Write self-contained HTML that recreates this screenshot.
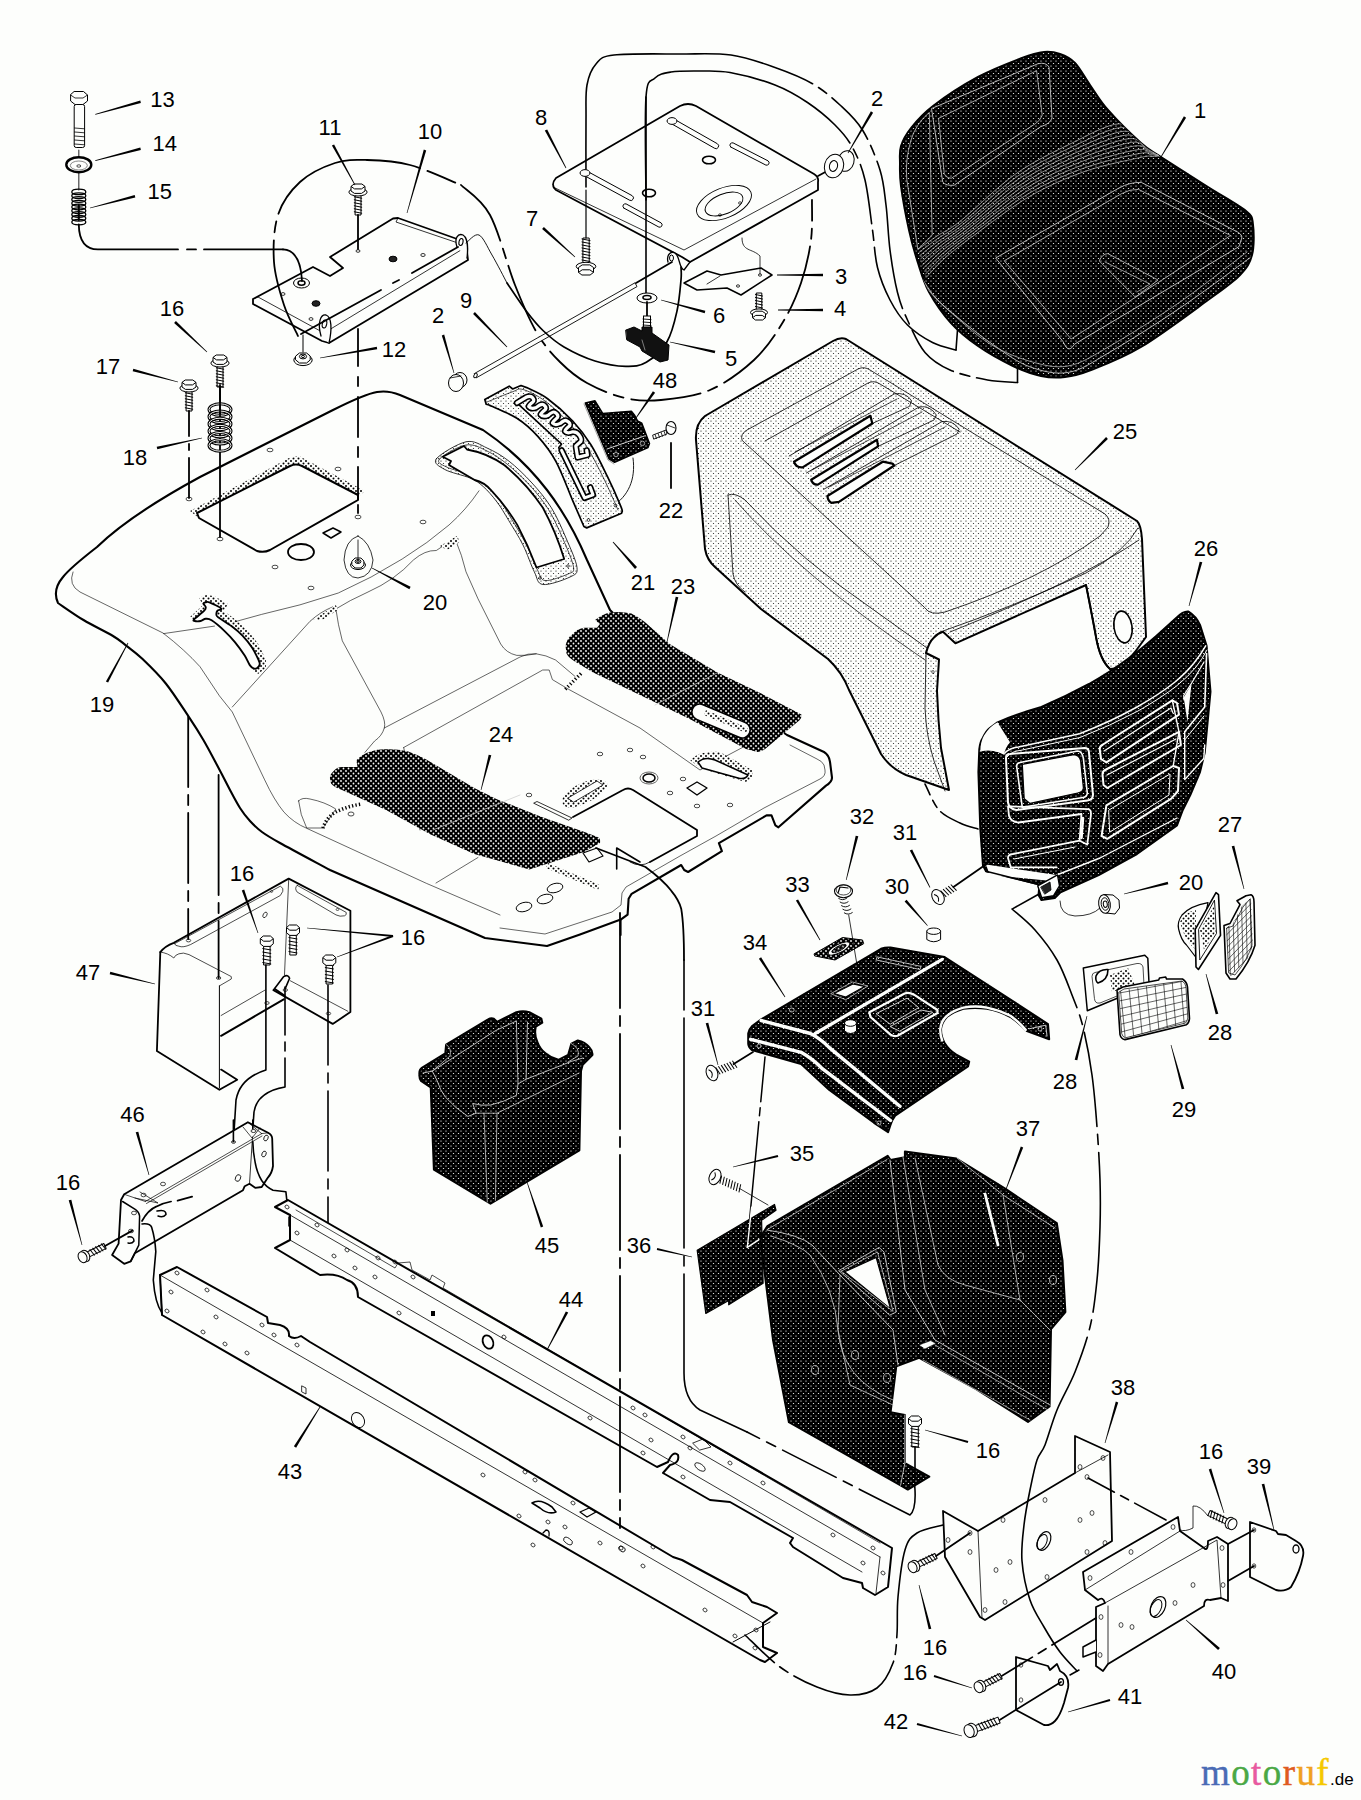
<!DOCTYPE html>
<html><head><meta charset="utf-8"><title>Parts diagram</title>
<style>
html,body{margin:0;padding:0;background:#fdfefc;}
body{width:1361px;height:1800px;overflow:hidden;font-family:"Liberation Sans",sans-serif;}
svg{display:block;}
svg text{font-family:"Liberation Sans",sans-serif;fill:#000;}
</style></head><body>
<svg width="1361" height="1800" viewBox="0 0 1361 1800">
<defs>
<pattern id="light" width="5" height="5" patternUnits="userSpaceOnUse"><rect width="5" height="5" fill="#fdfefc"/><circle cx="1" cy="1" r="0.62" fill="#111"/><circle cx="3.5" cy="3.5" r="0.62" fill="#222"/></pattern>
<pattern id="dark" width="5" height="5" patternUnits="userSpaceOnUse"><rect width="5" height="5" fill="#000"/><ellipse cx="1" cy="1" rx="0.7" ry="0.55" fill="#fdfefc"/><ellipse cx="3.5" cy="3.5" rx="0.7" ry="0.55" fill="#fdfefc"/></pattern>
<pattern id="mat" width="5" height="5" patternUnits="userSpaceOnUse"><rect width="5" height="5" fill="#000"/><circle cx="1" cy="1" r="0.9" fill="#fdfefc"/><circle cx="3.5" cy="3.5" r="0.9" fill="#fdfefc"/></pattern>
<pattern id="shade" width="5" height="5" patternUnits="userSpaceOnUse"><rect width="5" height="5" fill="#fdfefc"/><circle cx="1" cy="1" r="1.0" fill="#000"/><circle cx="3.5" cy="3.5" r="1.0" fill="#000"/></pattern>
</defs>
<rect width="1361" height="1800" fill="#fdfefc"/>
<path d="M610,610 L587,560 Q570,520 547,490 Q520,455 483,430 L400,395 Q388,390 377,392 Q365,394 333,410 L200,477 Q130,515 97,547 Q70,568 63,577 Q52,590 58,603 L58.0,603.0C62.2,605.8 74.3,614.5 83.5,620.0C92.7,625.5 106.0,631.8 113.0,636.0C120.0,640.2 120.9,641.5 125.8,645.3C130.7,649.1 135.6,652.4 142.3,658.8C149.0,665.2 158.0,673.7 165.8,683.5C173.6,693.3 183.0,708.2 189.3,717.6C195.6,727.0 198.8,732.1 203.4,740.0C208.0,747.9 212.6,756.7 217.0,765.0C221.4,773.3 226.2,782.8 230.0,790.0C233.8,797.2 236.7,802.8 240.0,808.0C243.3,813.2 246.3,817.0 250.0,821.0C253.7,825.0 257.0,828.3 262.0,832.0C267.0,835.7 268.7,836.7 280.0,843.0C291.3,849.3 321.7,865.5 330.0,870.0 L330,870 L485,938 L547,946 L580,934.4 L620.7,919.6 L627.6,914.6 L628.6,898.7 L631.6,893.8 L681.2,865 L684.2,870 L688.1,872 L721.9,851.1 L718.9,843.2 L766.5,815.4 L771.5,815.4 L775.4,825.3 L778.4,827.3 L826,785.6 Q832,782 832,777.7 L830,761.8 Q829,755 824,752 L787,735 L613,613 Z" fill="#fdfefc" stroke="#000" stroke-width="2.1" stroke-linejoin="round" stroke-linecap="round" />
<path d="M73,572 Q68,585 80,592 L163,633 Q185,650 200,666.7 L219.4,695.8 L232.3,712 L264.7,779.9 Q274,800 284,812.2 Q294,823 306.7,828.3 L426.3,883.3 L500,915" fill="none" stroke="#000" stroke-width="0.6" stroke-linejoin="round" stroke-linecap="round" />
<path d="M500,928 L545,934 L612,912 L621,905 L622,893 L626,887 L680,856 L716,836 L764,808 L820,779 Q826,776 825,770 L824,765 Q822,761 817,759 L790,745" fill="none" stroke="#000" stroke-width="0.6" stroke-linejoin="round" stroke-linecap="round" />
<polygon points="190.0,511.0 289.0,458.0 299.0,456.0 365.0,491.0 358.0,497.0 296.0,467.0 199.0,518.0" fill="url(#shade)" stroke="none" stroke-width="0" stroke-linejoin="round" stroke-linecap="round" />
<path d="M197,513 L290,466 Q296,463 302,466 L358,495 L358,500 L270,550 Q264,553 257,551 L199,518 Z" fill="#fdfefc" stroke="#000" stroke-width="2" stroke-linejoin="round" stroke-linecap="round" />
<ellipse cx="301" cy="552" rx="13" ry="8" fill="none" stroke="#000" stroke-width="1.8"/>
<polygon points="323.0,533.0 333.0,528.0 341.0,532.0 331.0,538.0" fill="none" stroke="#000" stroke-width="1.5" stroke-linejoin="round" stroke-linecap="round" />
<ellipse cx="189" cy="499" rx="3" ry="1.8" fill="none" stroke="#000" stroke-width="0.7"/>
<ellipse cx="220" cy="539" rx="3" ry="1.8" fill="none" stroke="#000" stroke-width="0.7"/>
<ellipse cx="270" cy="450" rx="3" ry="1.8" fill="none" stroke="#000" stroke-width="0.7"/>
<ellipse cx="338" cy="469" rx="3" ry="1.8" fill="none" stroke="#000" stroke-width="0.7"/>
<ellipse cx="358" cy="517" rx="3" ry="1.8" fill="none" stroke="#000" stroke-width="0.7"/>
<ellipse cx="423" cy="522" rx="3" ry="1.8" fill="none" stroke="#000" stroke-width="0.7"/>
<ellipse cx="275" cy="567" rx="3" ry="1.8" fill="none" stroke="#000" stroke-width="0.7"/>
<ellipse cx="311" cy="588" rx="3" ry="1.8" fill="none" stroke="#000" stroke-width="0.7"/>
<path d="M358,536 Q345,540 344,560 Q346,578 358,578 Q372,576 373,560 Q370,542 358,536 Z" fill="#fdfefc" stroke="#000" stroke-width="0.8" stroke-linejoin="round" stroke-linecap="round" />
<ellipse cx="358" cy="565" rx="7.475" ry="4.55" fill="#fdfefc" stroke="#000" stroke-width="1.0"/>
<polygon points="352.1,561.0 355.1,558.0 360.9,558.0 363.9,561.0 363.9,565.0 360.9,568.0 355.1,568.0 352.1,565.0" fill="#fdfefc" stroke="#000" stroke-width="1.0" stroke-linejoin="round" stroke-linecap="round" />
<ellipse cx="358" cy="561.5" rx="2.9250000000000003" ry="1.95" fill="none" stroke="#000" stroke-width="1.0"/>
<ellipse cx="358" cy="561.5" rx="1.3" ry="0.845" fill="none" stroke="#000" stroke-width="1.0"/>
<line x1="358" y1="540" x2="358" y2="560" stroke="#000" stroke-width="0.8" stroke-linecap="round" />
<path d="M190,617 L203,605 L199,598 L206,595 L214,596 L228,604 L224,611 L236,620 L249,632 L259,645 L266,660 L266,668 L258,674 L252,670 L258,664 L250,647 L240,634 L229,625 L217,616 L213,609 L217,607 L208,603 L206,608 L204,612 L195,621 Z" fill="url(#shade)" stroke="none" stroke-width="1.5" stroke-linejoin="round" stroke-linecap="round" />
<path d="M194.3,619.2C195.9,617.5 202.3,612.7 204.2,610.7C206.1,608.7 205.8,608.2 205.7,607.0C205.6,605.8 203.5,604.5 203.5,603.7C203.5,602.9 204.7,602.5 205.7,602.3C206.7,602.1 206.8,601.3 209.4,602.3C212.0,603.3 219.8,607.1 221.1,608.5C222.4,609.9 218.3,609.7 217.5,610.7C216.7,611.7 216.3,613.3 216.4,614.4C216.5,615.5 215.7,615.3 218.2,617.3C220.7,619.2 227.3,623.0 231.4,626.1C235.5,629.2 239.1,632.1 242.5,635.7C245.9,639.3 249.3,643.5 252.0,647.5C254.7,651.5 257.3,657.2 258.6,660.0C259.9,662.8 259.9,663.1 259.7,664.4C259.5,665.7 258.2,667.3 257.2,668.0C256.2,668.7 254.7,668.9 253.5,668.4C252.3,667.9 251.3,667.2 249.8,665.1C248.3,663.0 247.1,659.3 244.7,655.5C242.2,651.7 238.5,646.4 235.1,642.3C231.7,638.1 228.0,634.3 224.1,630.6C220.2,626.9 214.7,622.3 211.6,620.3C208.5,618.3 207.5,618.7 205.7,618.8C203.9,618.9 202.4,620.6 200.6,621.0C198.8,621.4 195.8,621.3 194.7,621.0C193.6,620.7 192.7,620.9 194.3,619.2Z" fill="#fdfefc" stroke="#000" stroke-width="1.9" stroke-linejoin="round" stroke-linecap="round" />
<line x1="163.6" y1="633.6" x2="214.5" y2="626.1" stroke="#000" stroke-width="0.6" stroke-linecap="round" />
<path d="M235.1,621.7 L261.6,614.4 Q300,606 338.3,593 Q372,578 402.2,559 Q428,543 449,525 Q466,510 479,490.8" fill="none" stroke="#000" stroke-width="0.6" stroke-linejoin="round" stroke-linecap="round" />
<path d="M232.3,707 L309.9,621.4 Q320,612 332.6,606.9" fill="none" stroke="#000" stroke-width="0.6" stroke-linejoin="round" stroke-linecap="round" />
<path d="M335.8,608.5 Q338,625 342.3,640.8 L381,712 Q386,722 384.3,728 Q382,736 374.6,741 L364.9,752.4" fill="none" stroke="#000" stroke-width="0.6" stroke-linejoin="round" stroke-linecap="round" />
<path d="M334,610 Q350,600 368,592 Q395,580 413.4,560 Q425,550 436.3,550.5 L455.5,537.7" fill="none" stroke="#000" stroke-width="0.6" stroke-linejoin="round" stroke-linecap="round" />
<path d="M455.5,539.8 Q462,555 466,571.8 L478,598.8 L500.7,644 Q506,653 516.8,655.4 Q526,656 536.2,653.8" fill="none" stroke="#000" stroke-width="0.6" stroke-linejoin="round" stroke-linecap="round" />
<path d="M384.3,728 L520,657 Q528,653 536.2,653.8 Q546,655 555.6,660 L575,676.4" fill="none" stroke="#000" stroke-width="0.6" stroke-linejoin="round" stroke-linecap="round" />
<path d="M403.7,747.5 L542.7,670 L549.2,670 L552.4,679.6 L568.6,689.3 L640,728 L700,770 L800,717" fill="none" stroke="#000" stroke-width="0.6" stroke-linejoin="round" stroke-linecap="round" />
<polygon points="313.0,620.0 335.8,605.0 338.0,610.0 322.0,620.0" fill="url(#shade)" stroke="none" stroke-width="1.5" stroke-linejoin="round" stroke-linecap="round" />
<polygon points="440.0,546.0 457.0,536.0 460.0,542.0 447.0,550.0" fill="url(#shade)" stroke="none" stroke-width="1.5" stroke-linejoin="round" stroke-linecap="round" />
<path d="M298.6,800.9 Q302,797 310,799 Q325,802 335.8,809 L322.9,828 L306.7,828 Q300,815 298.6,800.9 Z" fill="none" stroke="#000" stroke-width="0.6" stroke-linejoin="round" stroke-linecap="round" />
<path d="M322.9,828.3 Q326,818 335.8,812 Q348,806 361.7,804" fill="none" stroke="#000" stroke-width="3.5" stroke-dasharray="1.3 2.2" stroke-linecap="butt"/>
<path d="M322.9,828.3 Q326,818 335.8,812 Q348,806 361.7,804" fill="none" stroke="#000" stroke-width="3.5" stroke-dasharray="1.3 2.2" stroke-dashoffset="1.75" stroke-linecap="butt" transform="translate(0,0)" opacity="0"/>
<path d="M565.3,689.3 L581.5,673" fill="none" stroke="#000" stroke-width="3.5" stroke-dasharray="1.3 2.2" stroke-linecap="butt"/>
<path d="M565.3,689.3 L581.5,673" fill="none" stroke="#000" stroke-width="3.5" stroke-dasharray="1.3 2.2" stroke-dashoffset="1.75" stroke-linecap="butt" transform="translate(0,0)" opacity="0"/>
<path d="M436,883 L478,857.5 M420,830 L403.7,747.5" fill="none" stroke="#000" stroke-width="0.6" stroke-linejoin="round" stroke-linecap="round" />
<path d="M436.3,458.8C439.8,454.2 457.6,443.6 466.0,441.8C474.4,440.0 479.9,444.8 487.0,448.0C494.1,451.2 501.3,455.2 508.8,461.0C516.3,466.8 524.9,475.2 532.0,483.0C539.1,490.8 545.7,498.6 551.4,507.8C557.1,517.0 561.7,528.0 566.0,538.0C570.3,548.0 576.3,561.0 577.0,567.5C577.7,574.0 575.7,574.2 570.0,577.0C564.3,579.8 548.9,585.4 542.9,584.5C536.9,583.6 537.6,578.4 534.3,571.8C531.0,565.2 527.2,553.5 523.0,545.0C518.8,536.5 513.1,527.8 508.8,520.6C504.5,513.4 501.3,507.7 497.0,502.0C492.7,496.3 487.7,490.5 483.2,486.5C478.7,482.5 476.4,480.8 470.0,478.0C463.6,475.2 450.4,472.7 444.8,469.5C439.2,466.3 432.8,463.4 436.3,458.8Z" fill="url(#light)" stroke="#000" stroke-width="0.8" stroke-linejoin="round" stroke-linecap="round" />
<path d="M439.5,459.0C442.8,455.3 458.1,446.3 466.0,445.0C473.9,443.7 480.2,447.8 487.0,451.0C493.8,454.2 499.9,458.3 507.0,464.0C514.1,469.7 522.6,477.4 529.5,485.0C536.4,492.6 542.9,500.5 548.5,509.5C554.1,518.5 558.8,529.4 563.0,539.0C567.2,548.6 572.7,561.2 573.5,567.0C574.3,572.8 572.8,571.8 568.0,574.0C563.2,576.2 550.1,581.2 545.0,580.5C539.9,579.8 540.7,576.1 537.5,570.0C534.3,563.9 530.3,552.5 526.0,544.0C521.7,535.5 515.9,526.3 511.5,519.0C507.1,511.7 503.9,505.8 499.5,500.0C495.1,494.2 489.8,488.2 485.0,484.0C480.2,479.8 477.4,477.8 471.0,475.0C464.6,472.2 451.8,469.7 446.5,467.0C441.2,464.3 436.2,462.7 439.5,459.0Z" fill="none" stroke="#000" stroke-width="0.7" stroke-linejoin="round" stroke-linecap="round" />
<path d="M442.7,456.7 L464,446 L467,449.5 Q487,453 504.5,465.2 Q527,484 542.9,507.8 Q556,532 564.2,559 L536.5,567.5 Q528,545 517.3,524.9 Q506,506 491.7,490.8 Q484,482 474.7,480 L449,465 L451,461 Z" fill="#fdfefc" stroke="#000" stroke-width="1.8" stroke-linejoin="round" stroke-linecap="round" />
<ellipse cx="540" cy="578" rx="1.3" ry="1.3" fill="none" stroke="#000" stroke-width="0.7"/>
<ellipse cx="568" cy="566" rx="1.3" ry="1.3" fill="none" stroke="#000" stroke-width="0.7"/>
<path d="M573,817 L623,790 Q628,787 633,790 L697,830 L697,836 L650,862" fill="none" stroke="#000" stroke-width="1.8" stroke-linejoin="round" stroke-linecap="round" />
<path d="M650,862 Q640,868 630,862" fill="none" stroke="#000" stroke-width="0.8" stroke-linejoin="round" stroke-linecap="round" />
<ellipse cx="600" cy="754" rx="2.8" ry="1.8" fill="none" stroke="#000" stroke-width="0.7"/>
<ellipse cx="630" cy="750" rx="2.8" ry="1.8" fill="none" stroke="#000" stroke-width="0.7"/>
<ellipse cx="643" cy="757" rx="2.8" ry="1.8" fill="none" stroke="#000" stroke-width="0.7"/>
<ellipse cx="683" cy="779" rx="2.8" ry="1.8" fill="none" stroke="#000" stroke-width="0.7"/>
<ellipse cx="670" cy="793" rx="2.8" ry="1.8" fill="none" stroke="#000" stroke-width="0.7"/>
<ellipse cx="697" cy="806" rx="2.8" ry="1.8" fill="none" stroke="#000" stroke-width="0.7"/>
<ellipse cx="730" cy="805" rx="2.8" ry="1.8" fill="none" stroke="#000" stroke-width="0.7"/>
<ellipse cx="529" cy="795" rx="2.8" ry="1.8" fill="none" stroke="#000" stroke-width="0.7"/>
<ellipse cx="649" cy="778" rx="6" ry="4" fill="none" stroke="#000" stroke-width="1.5"/>
<ellipse cx="649" cy="778" rx="9" ry="6" fill="none" stroke="#000" stroke-width="0.6"/>
<polygon points="687.0,788.0 697.0,782.0 707.0,788.0 697.0,795.0" fill="none" stroke="#000" stroke-width="1.4" stroke-linejoin="round" stroke-linecap="round" />
<path d="M562,800 Q565,788 590,780 Q605,778 608,785 Q600,800 572,808 Q562,808 562,800Z" fill="url(#shade)" stroke="none" stroke-width="1.5" stroke-linejoin="round" stroke-linecap="round" />
<path d="M568,798 L597,781 L603,785 L574,802 Z" fill="#fdfefc" stroke="#000" stroke-width="0.8" stroke-linejoin="round" stroke-linecap="round" />
<polygon points="534.0,803.0 537.0,801.5 572.0,818.0 569.0,820.0" fill="none" stroke="#000" stroke-width="0.8" stroke-linejoin="round" stroke-linecap="round" />
<path d="M690,760 Q700,750 720,752 L752,770 Q755,780 745,782 L700,768 Z" fill="url(#shade)" stroke="none" stroke-width="1.5" stroke-linejoin="round" stroke-linecap="round" />
<path d="M698,762 Q705,756 715,760 L748,775 Q745,780 738,778 L702,768 Z" fill="#fdfefc" stroke="#000" stroke-width="1.5" stroke-linejoin="round" stroke-linecap="round" />
<ellipse cx="555" cy="888" rx="8" ry="4.5" fill="none" stroke="#000" stroke-width="0.9" transform="rotate(-15 555 888)"/>
<ellipse cx="545" cy="899" rx="8" ry="4.5" fill="none" stroke="#000" stroke-width="0.9" transform="rotate(-15 545 899)"/>
<ellipse cx="524" cy="907" rx="8" ry="4.5" fill="none" stroke="#000" stroke-width="0.9" transform="rotate(-15 524 907)"/>
<ellipse cx="351" cy="814" rx="3" ry="2" fill="none" stroke="#000" stroke-width="0.7"/>
<path d="M565.5,645.8 Q567,638 572.2,634.4 Q577,629 583.7,627.7 L597,627.7 L599.9,623.9 L595.1,620 Q602,614 610.4,612.4 Q621,611 631.4,613.4 Q639,617 644.8,622 L669.6,643.9 L717.4,672.6 L761.3,693.6 L801.4,714.6 Q802,718 799.5,720.3 L765.1,749 Q761,752 757.5,751.9 L746,749 L688.7,718.4 L641,695.5 L593.2,672.6 L574.1,661.1 Q568,657 566.5,653.5 Z" fill="url(#mat)" stroke="none" stroke-width="1.5" stroke-linejoin="round" stroke-linecap="round" />
<rect x="690" y="713" width="62" height="16" rx="8" fill="#fdfefc" stroke="#000" stroke-width="1.6" transform="rotate(23 721 721)"/>
<polygon points="706.0,710.0 748.0,728.0 746.0,733.0 704.0,715.0" fill="url(#shade)" stroke="none" stroke-width="0" stroke-linejoin="round" stroke-linecap="round" />
<line x1="655" y1="705" x2="717" y2="673" stroke="#ccc" stroke-width="0.7" stroke-linecap="round" />
<path d="M329.9,778 Q330,774 333.2,771.4 Q337,767 342,767 L357.5,767 L356.4,760.3 Q362,754 370.7,751.5 Q378,749 386.1,749.3 Q398,749 408.2,751.5 Q418,755 425.8,759.2 L474.3,787.9 L496.3,798.9 L540.4,816.6 L584.5,832 L598.8,837.5 Q601,840 599.9,843 L584.5,851.8 L529.4,869.4 L474.3,854 L430.2,834.2 L386.1,809.9 L342,790.1 Q334,787 331,783.5 Z" fill="url(#mat)" stroke="none" stroke-width="1.5" stroke-linejoin="round" stroke-linecap="round" />
<line x1="433" y1="830" x2="520" y2="795" stroke="#ccc" stroke-width="0.7" stroke-linecap="round" />
<polygon points="583.0,853.0 597.0,848.0 603.0,856.0 589.0,862.0" fill="#fdfefc" stroke="#000" stroke-width="1.2" stroke-linejoin="round" stroke-linecap="round" />
<polygon points="548.0,863.0 600.0,885.0 598.0,890.0 546.0,868.0" fill="url(#shade)" stroke="none" stroke-width="0" stroke-linejoin="round" stroke-linecap="round" />
<path d="M616.7,869 L616.7,848 L640,862" fill="none" stroke="#000" stroke-width="1.6" stroke-linejoin="round" stroke-linecap="round" />
<path d="M596,848 L645.5,867 Q663,880 671.3,890.8 Q679,900 681.2,908.7 Q684,925 684,960" fill="none" stroke="#000" stroke-width="1.8" stroke-linejoin="round" stroke-linecap="round" />
<line x1="620.7" y1="919.6" x2="620.7" y2="935" stroke="#000" stroke-width="1.8" stroke-linecap="round" />
<text x="102" y="711.9" font-size="22" text-anchor="middle">19</text>
<polygon points="127.7,642.8 105.9,681.4 108.1,682.6 128.3,643.2" fill="#000"/>
<text x="435" y="609.9" font-size="22" text-anchor="middle">20</text>
<polygon points="371.8,568.3 409.4,589.2 410.6,586.8 372.2,567.7" fill="#000"/>
<text x="683" y="593.9" font-size="22" text-anchor="middle">23</text>
<polygon points="667.3,642.1 678.3,597.3 675.7,596.7 666.7,641.9" fill="#000"/>
<text x="501" y="741.9" font-size="22" text-anchor="middle">24</text>
<polygon points="481.3,790.1 491.3,755.3 488.7,754.7 480.7,789.9" fill="#000"/>
<polygon points="74.5,91.5 83.5,91.5 87.5,95.0 87.5,101.0 83.0,104.5 75.0,104.5 70.6,101.0 70.6,95.0" fill="#fdfefc" stroke="#000" stroke-width="1" stroke-linejoin="round" stroke-linecap="round" />
<polyline points="70.6,95.0 75.0,98.0 83.0,98.0 87.5,95.0" fill="none" stroke="#000" stroke-width="0.8" stroke-linejoin="round" stroke-linecap="round" />
<rect x="74.2" y="104.5" width="10.4" height="43" rx="2" fill="#fdfefc" stroke="#000" stroke-width="1"/>
<line x1="74.5" y1="128" x2="84.5" y2="128.8" stroke="#000" stroke-width="0.8" stroke-linecap="round" />
<line x1="74.5" y1="132" x2="84.5" y2="132.8" stroke="#000" stroke-width="0.8" stroke-linecap="round" />
<line x1="74.5" y1="136" x2="84.5" y2="136.8" stroke="#000" stroke-width="0.8" stroke-linecap="round" />
<line x1="74.5" y1="140" x2="84.5" y2="140.8" stroke="#000" stroke-width="0.8" stroke-linecap="round" />
<line x1="74.5" y1="144" x2="84.5" y2="144.8" stroke="#000" stroke-width="0.8" stroke-linecap="round" />
<line x1="78.8" y1="150" x2="78.8" y2="190" stroke="#444" stroke-width="1.2" stroke-linecap="round" />
<ellipse cx="78.8" cy="164.7" rx="12.5" ry="7.5" fill="#fdfefc" stroke="#000" stroke-width="2.4"/>
<ellipse cx="78.8" cy="165.5" rx="8.5" ry="4.5" fill="none" stroke="#555" stroke-width="0.7"/>
<ellipse cx="78.8" cy="166" rx="2" ry="1.2" fill="none" stroke="#000" stroke-width="0.7"/>
<ellipse cx="78.8" cy="191.88888888888889" rx="7.0" ry="2.833333333333333" fill="none" stroke="#000" stroke-width="1.3"/>
<ellipse cx="78.8" cy="195.66666666666666" rx="7.0" ry="2.833333333333333" fill="none" stroke="#000" stroke-width="1.3"/>
<ellipse cx="78.8" cy="199.44444444444446" rx="7.0" ry="2.833333333333333" fill="none" stroke="#000" stroke-width="1.3"/>
<ellipse cx="78.8" cy="203.22222222222223" rx="7.0" ry="2.833333333333333" fill="none" stroke="#000" stroke-width="1.3"/>
<ellipse cx="78.8" cy="207.0" rx="7.0" ry="2.833333333333333" fill="none" stroke="#000" stroke-width="1.3"/>
<ellipse cx="78.8" cy="210.77777777777777" rx="7.0" ry="2.833333333333333" fill="none" stroke="#000" stroke-width="1.3"/>
<ellipse cx="78.8" cy="214.55555555555554" rx="7.0" ry="2.833333333333333" fill="none" stroke="#000" stroke-width="1.3"/>
<ellipse cx="78.8" cy="218.33333333333334" rx="7.0" ry="2.833333333333333" fill="none" stroke="#000" stroke-width="1.3"/>
<ellipse cx="78.8" cy="222.11111111111111" rx="7.0" ry="2.833333333333333" fill="none" stroke="#000" stroke-width="1.3"/>
<line x1="78.8" y1="205" x2="78.8" y2="220" stroke="#000" stroke-width="2" stroke-linecap="round" />
<path d="M78.8,224.5 C79,240 85,249.4 98,249.4 L178,249.4 M187,249.4 L196,249.4 M204,249.4 L283,249.4" fill="none" stroke="#000" stroke-width="1.8" stroke-linejoin="round" stroke-linecap="round" />
<text x="162.4" y="106.7" font-size="22" text-anchor="middle">13</text>
<text x="164.7" y="150.9" font-size="22" text-anchor="middle">14</text>
<text x="159.7" y="199.1" font-size="22" text-anchor="middle">15</text>
<polygon points="95.4,114.7 140.9,103.1 140.3,100.5 95.2,114.1" fill="#000"/>
<polygon points="95.4,160.9 140.9,150.1 140.3,147.5 95.2,160.3" fill="#000"/>
<polygon points="90.1,208.3 135.3,197.5 134.7,194.9 89.9,207.7" fill="#000"/>
<path d="M461.0,185.0C465.8,190.0 481.0,198.3 490.0,215.0C499.0,231.7 507.2,265.3 515.0,285.0C522.8,304.7 529.5,320.2 537.0,333.0C544.5,345.8 551.7,353.7 560.0,362.0C568.3,370.3 576.2,377.0 587.0,383.0C597.8,389.0 612.7,395.2 625.0,398.0C637.3,400.8 646.8,401.3 661.0,400.0C675.2,398.7 694.5,396.7 710.0,390.0C725.5,383.3 741.8,371.3 754.0,360.0C766.2,348.7 775.2,334.8 783.0,322.0C790.8,309.2 796.3,296.7 801.0,283.0C805.7,269.3 809.2,253.8 811.0,240.0C812.8,226.2 811.8,206.7 812.0,200.0" fill="none" stroke="#000" stroke-width="1.8" stroke-linejoin="round" stroke-linecap="round" stroke-dasharray="70 8 10 8"/>
<polygon points="253.0,299.0 313.0,267.0 330.0,276.0 343.0,268.0 330.0,257.0 393.0,218.5 398.0,218.0 460.0,240.0 466.0,243.0 468.0,260.0 329.0,343.0 322.0,341.0 253.0,304.0" fill="#fdfefc" stroke="#000" stroke-width="1.8" stroke-linejoin="round" stroke-linecap="round" />
<polyline points="253.0,299.0 258.0,297.0 324.0,333.0 466.0,247.0" fill="none" stroke="#000" stroke-width="0.8" stroke-linejoin="round" stroke-linecap="round" />
<polyline points="398.0,218.0 396.0,222.0 458.0,243.0" fill="none" stroke="#000" stroke-width="0.8" stroke-linejoin="round" stroke-linecap="round" />
<path d="M321,336 C317,322 321,314 326,315 C332,317 332,330 329,343" fill="#fdfefc" stroke="#000" stroke-width="1.3" stroke-linejoin="round" stroke-linecap="round" />
<ellipse cx="324.5" cy="324" rx="2.2" ry="4" fill="none" stroke="#000" stroke-width="1.1" transform="rotate(12 324.5 324)"/>
<path d="M457,247 C454,238 458,233 463,235 C468,238 468,250 467,258" fill="#fdfefc" stroke="#000" stroke-width="1.3" stroke-linejoin="round" stroke-linecap="round" />
<ellipse cx="461" cy="242" rx="2" ry="3.6" fill="none" stroke="#000" stroke-width="1.1" transform="rotate(12 461 242)"/>
<ellipse cx="301.5" cy="283" rx="8" ry="5" fill="none" stroke="#000" stroke-width="1"/>
<ellipse cx="301.5" cy="283" rx="3.5" ry="2.2" fill="none" stroke="#000" stroke-width="1.5"/>
<ellipse cx="316" cy="303.5" rx="4" ry="2.8" fill="#222" stroke="#000" stroke-width="1"/>
<ellipse cx="393" cy="259" rx="4" ry="2.8" fill="#222" stroke="#000" stroke-width="1"/>
<ellipse cx="283" cy="294" rx="2" ry="1.4" fill="none" stroke="#000" stroke-width="0.8"/>
<ellipse cx="311" cy="319" rx="2" ry="1.4" fill="none" stroke="#000" stroke-width="0.8"/>
<ellipse cx="423" cy="255" rx="2.2" ry="1.5" fill="none" stroke="#000" stroke-width="0.8"/>
<ellipse cx="358" cy="251" rx="2" ry="1.3" fill="none" stroke="#000" stroke-width="0.8"/>
<path d="M283,249.4 C296,250 301,262 302,281" fill="none" stroke="#000" stroke-width="1.8" stroke-linejoin="round" stroke-linecap="round" />
<line x1="458" y1="247" x2="412" y2="273" stroke="#000" stroke-width="1.8" stroke-linecap="round" />
<line x1="399" y1="280" x2="393" y2="283" stroke="#000" stroke-width="1.8" stroke-linecap="round" />
<line x1="381" y1="290" x2="301" y2="334" stroke="#000" stroke-width="1.8" stroke-linecap="round" />
<g stroke="#000" stroke-width="1.0" fill="#fdfefc" stroke-linejoin="round">
<rect x="355.1" y="194.5" width="5.9" height="20.5"/>
<line x1="353.9" y1="193.7" x2="362.1" y2="195.3"/>
<line x1="353.9" y1="196.7" x2="362.1" y2="198.3"/>
<line x1="353.9" y1="199.7" x2="362.1" y2="201.3"/>
<line x1="353.9" y1="202.7" x2="362.1" y2="204.3"/>
<line x1="353.9" y1="205.7" x2="362.1" y2="207.3"/>
<line x1="353.9" y1="208.7" x2="362.1" y2="210.3"/>
<line x1="353.9" y1="211.7" x2="362.1" y2="213.3"/>
<ellipse cx="358" cy="192.1" rx="9.1" ry="3.9"/>
<polygon points="354.1,184.0 361.9,184.0 365.0,186.4 365.0,191.0 361.5,193.4 354.5,193.4 351.0,191.0 351.0,186.4"/>
<polyline fill="none" points="351.0,186.4 354.5,188.9 361.5,188.9 365.0,186.4"/>
</g>
<line x1="358" y1="215" x2="358" y2="249" stroke="#000" stroke-width="1.8" stroke-linecap="round" />
<line x1="303" y1="335" x2="303" y2="352" stroke="#000" stroke-width="1" stroke-linecap="round" />
<ellipse cx="303" cy="360" rx="9.2" ry="5.6" fill="#fdfefc" stroke="#000" stroke-width="1.0"/>
<polygon points="295.8,356.0 299.4,353.0 306.6,353.0 310.2,356.0 310.2,360.0 306.6,363.0 299.4,363.0 295.8,360.0" fill="#fdfefc" stroke="#000" stroke-width="1.0" stroke-linejoin="round" stroke-linecap="round" />
<ellipse cx="303" cy="356.5" rx="3.6" ry="2.4" fill="none" stroke="#000" stroke-width="1.0"/>
<ellipse cx="303" cy="356.5" rx="1.6" ry="1.04" fill="none" stroke="#000" stroke-width="1.0"/>
<line x1="358" y1="329" x2="358" y2="366" stroke="#000" stroke-width="1.8" stroke-linecap="round" />
<line x1="358" y1="377" x2="358" y2="386" stroke="#000" stroke-width="1.8" stroke-linecap="round" />
<line x1="358" y1="397" x2="358" y2="437" stroke="#000" stroke-width="1.8" stroke-linecap="round" />
<line x1="358" y1="447" x2="358" y2="457" stroke="#000" stroke-width="1.8" stroke-linecap="round" />
<line x1="358" y1="467" x2="358" y2="496" stroke="#000" stroke-width="1.8" stroke-linecap="round" />
<line x1="358" y1="505" x2="358" y2="513" stroke="#000" stroke-width="1.8" stroke-linecap="round" />
<line x1="220" y1="385" x2="220" y2="537" stroke="#000" stroke-width="1.8" stroke-linecap="round" />
<g stroke="#000" stroke-width="1.0" fill="#fdfefc" stroke-linejoin="round">
<rect x="217.1" y="365.5" width="5.9" height="21.5"/>
<line x1="215.9" y1="364.7" x2="224.1" y2="366.3"/>
<line x1="215.9" y1="367.7" x2="224.1" y2="369.3"/>
<line x1="215.9" y1="370.7" x2="224.1" y2="372.3"/>
<line x1="215.9" y1="373.7" x2="224.1" y2="375.3"/>
<line x1="215.9" y1="376.7" x2="224.1" y2="378.3"/>
<line x1="215.9" y1="379.7" x2="224.1" y2="381.3"/>
<line x1="215.9" y1="382.7" x2="224.1" y2="384.3"/>
<line x1="215.9" y1="385.7" x2="224.1" y2="387.3"/>
<ellipse cx="220" cy="363.1" rx="9.1" ry="3.9"/>
<polygon points="216.2,355.0 223.8,355.0 227.0,357.4 227.0,362.0 223.5,364.4 216.5,364.4 213.0,362.0 213.0,357.4"/>
<polyline fill="none" points="213.0,357.4 216.5,359.9 223.5,359.9 227.0,357.4"/>
</g>
<g stroke="#000" stroke-width="1.0" fill="#fdfefc" stroke-linejoin="round">
<rect x="186.1" y="390.5" width="5.9" height="20.5"/>
<line x1="184.9" y1="389.7" x2="193.1" y2="391.3"/>
<line x1="184.9" y1="392.7" x2="193.1" y2="394.3"/>
<line x1="184.9" y1="395.7" x2="193.1" y2="397.3"/>
<line x1="184.9" y1="398.7" x2="193.1" y2="400.3"/>
<line x1="184.9" y1="401.7" x2="193.1" y2="403.3"/>
<line x1="184.9" y1="404.7" x2="193.1" y2="406.3"/>
<line x1="184.9" y1="407.7" x2="193.1" y2="409.3"/>
<ellipse cx="189" cy="388.1" rx="9.1" ry="3.9"/>
<polygon points="185.2,380.0 192.8,380.0 196.0,382.4 196.0,387.0 192.5,389.4 185.5,389.4 182.0,387.0 182.0,382.4"/>
<polyline fill="none" points="182.0,382.4 185.5,384.9 192.5,384.9 196.0,382.4"/>
</g>
<line x1="189" y1="411" x2="189" y2="436" stroke="#000" stroke-width="1.8" stroke-linecap="round" />
<line x1="189" y1="444" x2="189" y2="450" stroke="#000" stroke-width="1.8" stroke-linecap="round" />
<line x1="189" y1="458" x2="189" y2="498" stroke="#000" stroke-width="1.8" stroke-linecap="round" />
<ellipse cx="220" cy="409.5833333333333" rx="11.0" ry="5.733333333333334" fill="none" stroke="#000" stroke-width="3.0"/>
<ellipse cx="220" cy="409.5833333333333" rx="11.0" ry="5.733333333333334" fill="none" stroke="#fdfefc" stroke-width="1.0"/>
<ellipse cx="220" cy="416.75" rx="11.0" ry="5.733333333333334" fill="none" stroke="#000" stroke-width="3.0"/>
<ellipse cx="220" cy="416.75" rx="11.0" ry="5.733333333333334" fill="none" stroke="#fdfefc" stroke-width="1.0"/>
<ellipse cx="220" cy="423.9166666666667" rx="11.0" ry="5.733333333333334" fill="none" stroke="#000" stroke-width="3.0"/>
<ellipse cx="220" cy="423.9166666666667" rx="11.0" ry="5.733333333333334" fill="none" stroke="#fdfefc" stroke-width="1.0"/>
<ellipse cx="220" cy="431.0833333333333" rx="11.0" ry="5.733333333333334" fill="none" stroke="#000" stroke-width="3.0"/>
<ellipse cx="220" cy="431.0833333333333" rx="11.0" ry="5.733333333333334" fill="none" stroke="#fdfefc" stroke-width="1.0"/>
<ellipse cx="220" cy="438.25" rx="11.0" ry="5.733333333333334" fill="none" stroke="#000" stroke-width="3.0"/>
<ellipse cx="220" cy="438.25" rx="11.0" ry="5.733333333333334" fill="none" stroke="#fdfefc" stroke-width="1.0"/>
<ellipse cx="220" cy="445.4166666666667" rx="11.0" ry="5.733333333333334" fill="none" stroke="#000" stroke-width="3.0"/>
<ellipse cx="220" cy="445.4166666666667" rx="11.0" ry="5.733333333333334" fill="none" stroke="#fdfefc" stroke-width="1.0"/>
<line x1="220" y1="385" x2="220" y2="416" stroke="#000" stroke-width="1.8" stroke-linecap="round" />
<path d="M298.0,336.0C295.7,330.8 288.0,317.3 284.0,305.0C280.0,292.7 275.0,277.0 274.0,262.0C273.0,247.0 273.7,228.3 278.0,215.0C282.3,201.7 290.5,190.7 300.0,182.0C309.5,173.3 323.8,166.7 335.0,163.0C346.2,159.3 354.5,159.7 367.0,160.0C379.5,160.3 394.3,160.8 410.0,165.0C425.7,169.2 452.5,181.7 461.0,185.0" fill="none" stroke="#000" stroke-width="1.8" stroke-linejoin="round" stroke-linecap="round" stroke-dasharray="100 8 11 8 165 8 30 8 200"/>
<text x="330" y="134.9" font-size="22" text-anchor="middle">11</text>
<text x="430" y="138.9" font-size="22" text-anchor="middle">10</text>
<text x="172" y="315.9" font-size="22" text-anchor="middle">16</text>
<text x="108" y="373.9" font-size="22" text-anchor="middle">17</text>
<text x="135" y="464.9" font-size="22" text-anchor="middle">18</text>
<text x="394" y="356.9" font-size="22" text-anchor="middle">12</text>
<text x="438" y="322.9" font-size="22" text-anchor="middle">2</text>
<polygon points="355.3,184.8 334.1,144.4 331.9,145.6 354.7,185.2" fill="#000"/>
<polygon points="407.3,213.1 426.2,150.4 423.8,149.6 406.7,212.9" fill="#000"/>
<polygon points="207.2,351.7 175.9,321.1 174.1,322.9 206.8,352.3" fill="#000"/>
<polygon points="178.1,381.7 133.3,368.7 132.7,371.3 177.9,382.3" fill="#000"/>
<polygon points="201.9,437.7 156.7,446.7 157.3,449.3 202.1,438.3" fill="#000"/>
<polygon points="320.1,358.3 377.2,349.3 376.8,346.7 319.9,357.7" fill="#000"/>
<polygon points="454.3,372.9 444.2,334.6 441.8,335.4 453.7,373.1" fill="#000"/>
<path d="M556,178 L680,106 Q688,102 696,106 L814,174 Q819,177 818,182 L818,190 L690,262 L682,257 L556,190 Q550,185 556,178 Z" fill="#fdfefc" stroke="#000" stroke-width="1.8" stroke-linejoin="round" stroke-linecap="round" />
<path d="M553,187 L684,250 L816,179" fill="none" stroke="#000" stroke-width="0.8" stroke-linejoin="round" stroke-linecap="round" />
<path d="M586.0,187.0C586.0,175.8 585.8,137.0 586.0,120.0C586.2,103.0 585.3,94.3 587.0,85.0C588.7,75.7 591.5,69.0 596.0,64.0C600.5,59.0 600.0,56.7 614.0,55.0C628.0,53.3 660.5,54.0 680.0,54.0C699.5,54.0 715.2,52.8 731.0,55.0C746.8,57.2 761.4,62.7 775.0,67.5C788.6,72.3 801.7,77.5 812.5,83.7C823.3,90.0 831.7,97.3 840.0,105.0C848.3,112.7 855.8,119.2 862.5,130.0C869.2,140.8 876.1,157.5 880.0,170.0C883.9,182.5 884.3,191.7 886.0,205.0C887.7,218.3 888.1,235.4 890.0,250.0C891.9,264.6 894.6,280.8 897.5,292.5C900.4,304.2 902.9,310.0 907.5,320.0C912.1,330.0 917.9,344.2 925.0,352.5C932.1,360.8 939.6,365.4 950.0,370.0C960.4,374.6 976.2,377.9 987.5,380.0C998.8,382.1 1012.5,382.1 1017.5,382.5" fill="none" stroke="#000" stroke-width="1.6" stroke-linejoin="round" stroke-linecap="round" stroke-dasharray="350 7 10 7 55 7 10 7 150 7 10 7 60 7 10 7 300"/>
<line x1="1017.5" y1="382.5" x2="1017.5" y2="365" stroke="#000" stroke-width="1.6" stroke-linecap="round" />
<path d="M646.0,200.0C646.0,182.8 644.5,117.3 646.0,97.0C647.5,76.7 650.8,82.2 655.0,78.0C659.2,73.8 663.5,73.2 671.0,72.0C678.5,70.8 690.2,70.9 700.0,71.0C709.8,71.1 717.5,70.2 730.0,72.5C742.5,74.8 762.1,80.0 775.0,85.0C787.9,90.0 797.5,95.8 807.5,102.5C817.5,109.2 827.5,117.5 835.0,125.0C842.5,132.5 847.5,138.3 852.5,147.5C857.5,156.7 861.7,166.2 865.0,180.0C868.3,193.8 870.4,215.4 872.5,230.0C874.6,244.6 874.6,255.8 877.5,267.5C880.4,279.2 885.0,290.4 890.0,300.0C895.0,309.6 900.4,317.9 907.5,325.0C914.6,332.1 924.4,338.3 932.5,342.5C940.6,346.7 952.1,348.8 956.0,350.0" fill="none" stroke="#000" stroke-width="1.6" stroke-linejoin="round" stroke-linecap="round" stroke-dasharray="345 7 10 7 60 7 10 7 500"/>
<line x1="956" y1="350" x2="957.5" y2="330" stroke="#000" stroke-width="1.6" stroke-linecap="round" />
<path d="M668,262 C666,254 672,250 676,254 C680,258 679,268 684,270 L690,262" fill="#fdfefc" stroke="#000" stroke-width="1.3" stroke-linejoin="round" stroke-linecap="round" />
<ellipse cx="671.5" cy="258" rx="2" ry="3" fill="none" stroke="#000" stroke-width="1"/>
<path d="M670.7,123.3 L714.7,148.3 A2.6,2.6 0 0 0 717.3,143.7 L673.3,118.7 A2.6,2.6 0 0 0 670.7,123.3Z" fill="#fdfefc" stroke="#000" stroke-width="1.0" stroke-linejoin="round" stroke-linecap="round" />
<ellipse cx="672" cy="121" rx="4.9399999999999995" ry="3.3800000000000003" fill="#fdfefc" stroke="#000" stroke-width="1.0"/>
<path d="M730.9,147.1 L765.9,165.1 A2.4,2.4 0 0 0 768.1,160.9 L733.1,142.9 A2.4,2.4 0 0 0 730.9,147.1Z" fill="#fdfefc" stroke="#000" stroke-width="1.0" stroke-linejoin="round" stroke-linecap="round" />
<path d="M583.8,175.3 L629.8,200.3 A2.6,2.6 0 0 0 632.2,195.7 L586.2,170.7 A2.6,2.6 0 0 0 583.8,175.3Z" fill="#fdfefc" stroke="#000" stroke-width="1.0" stroke-linejoin="round" stroke-linecap="round" />
<ellipse cx="585" cy="173" rx="4.9399999999999995" ry="3.3800000000000003" fill="#fdfefc" stroke="#000" stroke-width="1.0"/>
<path d="M623.9,208.1 L658.9,227.1 A2.4,2.4 0 0 0 661.1,222.9 L626.1,203.9 A2.4,2.4 0 0 0 623.9,208.1Z" fill="#fdfefc" stroke="#000" stroke-width="1.0" stroke-linejoin="round" stroke-linecap="round" />
<ellipse cx="709" cy="160" rx="6.5" ry="3.8" fill="none" stroke="#000" stroke-width="1.6"/>
<ellipse cx="649" cy="193" rx="6.5" ry="3.8" fill="none" stroke="#000" stroke-width="1.6"/>
<ellipse cx="724" cy="203" rx="29" ry="15" fill="none" stroke="#000" stroke-width="0.9" transform="rotate(-22 724 203)"/>
<ellipse cx="724" cy="204" rx="20" ry="10" fill="none" stroke="#000" stroke-width="0.9" transform="rotate(-22 724 204)"/>
<ellipse cx="740" cy="203" rx="1.5" ry="1.2" fill="none" stroke="#000" stroke-width="0.7"/>
<ellipse cx="720" cy="215" rx="1.5" ry="1.2" fill="none" stroke="#000" stroke-width="0.7"/>
<polygon points="474.5,373.5 635.0,282.8 637.0,286.6 476.5,377.7" fill="#fdfefc" stroke="#000" stroke-width="0.9" stroke-linejoin="round" stroke-linecap="round" />
<ellipse cx="475.5" cy="375.6" rx="1.5" ry="2.3" fill="#fdfefc" stroke="#000" stroke-width="0.9" transform="rotate(30 475.5 375.6)"/>
<line x1="636" y1="283" x2="672" y2="262" stroke="#000" stroke-width="1.8" stroke-linecap="round" />
<path d="M466.0,243.0C468.2,241.7 474.7,233.0 479.0,235.0C483.3,237.0 487.3,247.0 492.0,255.0C496.7,263.0 504.5,278.3 507.0,283.0" fill="none" stroke="#000" stroke-width="0.9" stroke-linejoin="round" stroke-linecap="round" />
<path d="M507.0,283.0C510.3,287.8 520.9,304.0 527.0,312.0C533.1,320.0 537.3,325.2 543.5,331.0C549.7,336.8 555.4,342.0 564.0,347.0C572.6,352.0 584.7,357.8 595.0,361.0C605.3,364.2 617.2,366.2 625.8,366.4C634.3,366.6 639.4,366.4 646.3,362.3C653.2,358.2 661.9,350.2 667.0,341.7C672.1,333.1 674.7,321.3 677.0,311.0C679.3,300.7 680.3,287.3 681.0,280.0C681.7,272.7 681.0,269.2 681.0,267.0" fill="none" stroke="#000" stroke-width="1.7" stroke-linejoin="round" stroke-linecap="round" />
<g stroke="#000" stroke-width="1.0" fill="#fdfefc" stroke-linejoin="round">
<rect x="582.9" y="238.0" width="6.3" height="25.8"/>
<line x1="581.6" y1="262.9" x2="590.4" y2="264.6"/>
<line x1="581.6" y1="259.9" x2="590.4" y2="261.6"/>
<line x1="581.6" y1="256.9" x2="590.4" y2="258.6"/>
<line x1="581.6" y1="253.9" x2="590.4" y2="255.6"/>
<line x1="581.6" y1="250.9" x2="590.4" y2="252.6"/>
<line x1="581.6" y1="247.9" x2="590.4" y2="249.6"/>
<line x1="581.6" y1="244.9" x2="590.4" y2="246.6"/>
<line x1="581.6" y1="241.9" x2="590.4" y2="243.6"/>
<line x1="581.6" y1="238.9" x2="590.4" y2="240.6"/>
<ellipse cx="586" cy="266.4" rx="9.8" ry="4.1"/>
<polygon points="581.9,275.0 590.1,275.0 593.5,272.4 593.5,267.5 589.8,264.9 582.2,264.9 578.5,267.5 578.5,272.4"/>
<polyline fill="none" points="578.5,272.4 582.2,269.8 589.8,269.8 593.5,272.4"/>
</g>
<line x1="586" y1="190" x2="586" y2="238" stroke="#000" stroke-width="1.2" stroke-linecap="round" />
<line x1="646" y1="97" x2="646" y2="293" stroke="#000" stroke-width="1.6" stroke-linecap="round" />
<ellipse cx="647" cy="298" rx="10" ry="5" fill="#fdfefc" stroke="#000" stroke-width="1"/>
<ellipse cx="647" cy="297.5" rx="4" ry="2" fill="none" stroke="#000" stroke-width="1.6"/>
<line x1="647" y1="302" x2="647" y2="316" stroke="#000" stroke-width="1.8" stroke-linecap="round" />
<rect x="643.5" y="316" width="7" height="14" fill="#fdfefc" stroke="#000" stroke-width="1"/>
<line x1="643" y1="319" x2="651" y2="319.6" stroke="#000" stroke-width="0.9" stroke-linecap="round" />
<line x1="643" y1="322" x2="651" y2="322.6" stroke="#000" stroke-width="0.9" stroke-linecap="round" />
<line x1="643" y1="325" x2="651" y2="325.6" stroke="#000" stroke-width="0.9" stroke-linecap="round" />
<polygon points="626.0,330.0 634.0,327.0 642.0,331.0 642.0,327.0 652.0,327.0 652.0,333.0 669.0,345.0 668.0,360.0 660.0,362.0 642.0,351.0 640.0,347.0 627.0,340.0" fill="#111" stroke="#000" stroke-width="1" stroke-linejoin="round" stroke-linecap="round" />
<line x1="642" y1="340" x2="645" y2="350" stroke="#999" stroke-width="0.8" stroke-linecap="round" />
<polygon points="684.0,283.0 707.0,271.0 721.0,275.0 761.0,268.0 772.0,275.0 741.0,295.0 727.0,288.0 697.0,290.0" fill="#fdfefc" stroke="#000" stroke-width="1.5" stroke-linejoin="round" stroke-linecap="round" />
<line x1="707" y1="284" x2="720" y2="276" stroke="#000" stroke-width="0.8" stroke-linecap="round" />
<ellipse cx="760" cy="275" rx="1.6" ry="1.2" fill="none" stroke="#000" stroke-width="0.8"/>
<ellipse cx="738" cy="286" rx="1.6" ry="1.2" fill="none" stroke="#000" stroke-width="0.8"/>
<path d="M742,238 C742,252 752,248 760,256 L760,274" fill="none" stroke="#000" stroke-width="0.8" stroke-linejoin="round" stroke-linecap="round" />
<g stroke="#000" stroke-width="1.0" fill="#fdfefc" stroke-linejoin="round">
<rect x="756.3" y="293.0" width="5.5" height="17.2"/>
<line x1="755.1" y1="309.4" x2="762.9" y2="311.1"/>
<line x1="755.1" y1="306.4" x2="762.9" y2="308.1"/>
<line x1="755.1" y1="303.4" x2="762.9" y2="305.1"/>
<line x1="755.1" y1="300.4" x2="762.9" y2="302.1"/>
<line x1="755.1" y1="297.4" x2="762.9" y2="299.1"/>
<line x1="755.1" y1="294.4" x2="762.9" y2="296.1"/>
<ellipse cx="759" cy="312.5" rx="8.5" ry="3.6"/>
<polygon points="755.4,320.0 762.6,320.0 765.5,317.7 765.5,313.5 762.2,311.2 755.8,311.2 752.5,313.5 752.5,317.7"/>
<polyline fill="none" points="752.5,317.7 755.8,315.4 762.2,315.4 765.5,317.7"/>
</g>
<line x1="818" y1="176" x2="829" y2="170" stroke="#000" stroke-width="1.8" stroke-linecap="round" />
<ellipse cx="846" cy="161" rx="8" ry="10.5" fill="#fdfefc" stroke="#000" stroke-width="1" transform="rotate(15 846 161)"/>
<ellipse cx="834" cy="166" rx="9.5" ry="12" fill="#fdfefc" stroke="#000" stroke-width="1" transform="rotate(15 834 166)"/>
<ellipse cx="833.5" cy="166" rx="4" ry="5.5" fill="#fdfefc" stroke="#000" stroke-width="1" transform="rotate(15 833.5 166)"/>
<ellipse cx="460" cy="380" rx="7" ry="7.5" fill="#fdfefc" stroke="#000" stroke-width="1"/>
<ellipse cx="456" cy="383" rx="7.5" ry="8.5" fill="#fdfefc" stroke="#000" stroke-width="1"/>
<line x1="450" y1="378" x2="461" y2="376" stroke="#000" stroke-width="0.8" stroke-linecap="round" />
<path d="M585.3,403 L595,400.8 L602.7,413.4 L631.4,411.3 L634.8,415.5 L637.6,421 L641.8,423.2 L649.5,443.4 L648,447.6 L614.6,462.3 L609,458.8 Z" fill="url(#dark)" stroke="#000" stroke-width="1.5" stroke-linejoin="round" stroke-linecap="round" />
<line x1="607" y1="449" x2="645.3" y2="435.7" stroke="#ccc" stroke-width="1" stroke-linecap="round" />
<ellipse cx="616" cy="454.6" rx="2.2" ry="2.2" fill="#111" stroke="#bbb" stroke-width="0.8"/>
<ellipse cx="642.5" cy="443.4" rx="2.2" ry="2.2" fill="#111" stroke="#bbb" stroke-width="0.8"/>
<path d="M584,404 L608,460 L614,464" fill="none" stroke="#777" stroke-width="0.7" stroke-linejoin="round" stroke-linecap="round" />
<path d="M633,458 C636,480 628,496 613,506" fill="none" stroke="#000" stroke-width="0.9" stroke-linejoin="round" stroke-linecap="round" />
<ellipse cx="671" cy="428" rx="5" ry="6.5" fill="#fdfefc" stroke="#000" stroke-width="1.1"/>
<path d="M667,425 L675,428" fill="none" stroke="#000" stroke-width="0.8" stroke-linejoin="round" stroke-linecap="round" />
<polygon points="653.0,435.0 666.0,430.0 667.0,434.0 654.0,439.0" fill="#fdfefc" stroke="#000" stroke-width="0.9" stroke-linejoin="round" stroke-linecap="round" />
<line x1="655" y1="434.5" x2="656.5" y2="438.5" stroke="#000" stroke-width="0.8" stroke-linecap="round" />
<line x1="658" y1="433.4" x2="659.5" y2="437.4" stroke="#000" stroke-width="0.8" stroke-linecap="round" />
<line x1="661" y1="432.3" x2="662.5" y2="436.3" stroke="#000" stroke-width="0.8" stroke-linecap="round" />
<line x1="664" y1="431.2" x2="665.5" y2="435.2" stroke="#000" stroke-width="0.8" stroke-linecap="round" />
<line x1="671" y1="443" x2="671" y2="488" stroke="#000" stroke-width="1.8" stroke-linecap="round" />
<path d="M484.8,399.4 L509.2,386.2 L512.7,389 L521,385.5 L526.7,387.6C530.2,389.5 539.9,393.1 547.6,398.7C555.3,404.3 565.5,413.3 572.7,421.0C579.9,428.7 585.1,435.5 590.9,444.8C596.7,454.1 602.7,466.9 607.6,476.9C612.5,486.9 617.8,499.1 620.2,504.8C622.7,510.5 621.9,510.1 622.3,511.1 L621.6,513.2 L586.7,527.9 L583.9,526.5C582.0,522.2 577.4,511.4 572.7,500.6C568.1,489.8 561.8,472.3 556.0,461.6C550.2,450.9 544.3,443.6 537.8,436.4C531.3,429.2 525.0,423.5 516.9,418.3C508.8,413.1 493.6,407.2 489.0,405.0 L486.2,404.3 Z" fill="url(#light)" stroke="#000" stroke-width="1.7" stroke-linejoin="round" stroke-linecap="round" />
<path d="M487.0,402.0C491.2,400.3 506.0,394.1 512.0,392.0C518.0,389.9 517.5,388.0 523.0,389.5C528.5,391.0 537.3,395.4 545.0,401.0C552.7,406.6 562.0,415.3 569.0,423.0C576.0,430.7 581.2,437.7 587.0,447.0C592.8,456.3 598.8,468.5 604.0,479.0C609.2,489.5 615.7,504.8 618.0,510.0" fill="none" stroke="#000" stroke-width="0.7" stroke-linejoin="round" stroke-linecap="round" />
<path d="M516.9,402.9 L526,397.3 Q530,395.5 532.2,397.3 Q535,400 532.9,402 Q529,405 528.7,406.5 Q531,409.5 536.4,407.4 Q541,403.5 543.4,404.6 Q547,407 545.5,409.5 Q541,413 540.6,414.6 Q543,417.5 548.3,415.2 Q553,411 554.9,412.4 Q559,415 557.4,417.6 Q553,421.5 552.5,423 Q555,425.8 560.2,423.4 Q565,419.5 566.4,420.7 Q571,423 569.7,425.8 Q565,429.5 565,431.3 Q567,434 572.7,431.8 Q577,431.5 579.4,435.3 Q582,439 580.8,441.5 L575.8,445.9 L577.6,457.4 L587.4,454.9 L586.7,450.4" fill="none" stroke="#000" stroke-width="6.4" stroke-linejoin="round" stroke-linecap="round" />
<path d="M561.6,450.4 L584.6,497.9 L593,494.8 L590.2,487.4" fill="none" stroke="#000" stroke-width="6.4" stroke-linejoin="round" stroke-linecap="round" />
<path d="M516.9,402.9 L561.6,444.1 L558.8,447.6" fill="none" stroke="#000" stroke-width="1.6" stroke-linejoin="round" stroke-linecap="round" />
<path d="M516.9,402.9 L526,397.3 Q530,395.5 532.2,397.3 Q535,400 532.9,402 Q529,405 528.7,406.5 Q531,409.5 536.4,407.4 Q541,403.5 543.4,404.6 Q547,407 545.5,409.5 Q541,413 540.6,414.6 Q543,417.5 548.3,415.2 Q553,411 554.9,412.4 Q559,415 557.4,417.6 Q553,421.5 552.5,423 Q555,425.8 560.2,423.4 Q565,419.5 566.4,420.7 Q571,423 569.7,425.8 Q565,429.5 565,431.3 Q567,434 572.7,431.8 Q577,431.5 579.4,435.3 Q582,439 580.8,441.5 L575.8,445.9 L577.6,457.4 L587.4,454.9 L586.7,450.4" fill="none" stroke="#fdfefc" stroke-width="3.2" stroke-linejoin="round" stroke-linecap="round" />
<path d="M561.6,450.4 L584.6,497.9 L593,494.8 L590.2,487.4" fill="none" stroke="#fdfefc" stroke-width="3" stroke-linejoin="round" stroke-linecap="round" />
<ellipse cx="615.5" cy="505.5" rx="1.4" ry="1.4" fill="none" stroke="#000" stroke-width="0.7"/>
<ellipse cx="588.5" cy="520" rx="1.4" ry="1.4" fill="none" stroke="#000" stroke-width="0.7"/>
<text x="541" y="124.9" font-size="22" text-anchor="middle">8</text>
<text x="877" y="105.9" font-size="22" text-anchor="middle">2</text>
<text x="532" y="225.9" font-size="22" text-anchor="middle">7</text>
<text x="466" y="307.9" font-size="22" text-anchor="middle">9</text>
<text x="841" y="283.9" font-size="22" text-anchor="middle">3</text>
<text x="840" y="315.9" font-size="22" text-anchor="middle">4</text>
<text x="719" y="322.9" font-size="22" text-anchor="middle">6</text>
<text x="731" y="365.9" font-size="22" text-anchor="middle">5</text>
<text x="665" y="387.9" font-size="22" text-anchor="middle">48</text>
<text x="671" y="517.9" font-size="22" text-anchor="middle">22</text>
<text x="643" y="589.9" font-size="22" text-anchor="middle">21</text>
<polygon points="566.3,167.8 547.2,129.4 544.8,130.6 565.7,168.2" fill="#000"/>
<polygon points="848.3,153.2 873.1,112.7 870.9,111.3 847.7,152.8" fill="#000"/>
<polygon points="575.2,256.7 543.9,227.0 542.1,229.0 574.8,257.3" fill="#000"/>
<polygon points="507.3,346.8 474.9,312.1 473.1,313.9 506.7,347.2" fill="#000"/>
<polygon points="777.0,275.4 823.0,276.3 823.0,273.7 777.0,274.6" fill="#000"/>
<polygon points="778.0,310.4 823.0,311.3 823.0,308.7 778.0,309.6" fill="#000"/>
<polygon points="660.9,300.3 704.7,313.3 705.3,310.7 661.1,299.7" fill="#000"/>
<polygon points="669.9,342.3 714.7,353.3 715.3,350.7 670.1,341.7" fill="#000"/>
<polygon points="636.3,418.2 655.1,392.7 652.9,391.3 635.7,417.8" fill="#000"/>
<polygon points="612.7,542.2 635.0,568.9 637.0,567.1 613.3,541.8" fill="#000"/>
<path d="M900.0,163.0C900.0,156.3 899.2,151.8 901.0,146.0C902.8,140.2 905.7,134.7 911.0,128.0C916.3,121.3 921.8,114.5 933.0,106.0C944.2,97.5 963.2,85.0 978.0,77.0C992.8,69.0 1011.0,62.2 1022.0,58.0C1033.0,53.8 1037.7,52.7 1044.0,52.0C1050.3,51.3 1054.8,52.2 1060.0,54.0C1065.2,55.8 1070.0,57.8 1075.0,63.0C1080.0,68.2 1084.5,77.2 1090.0,85.0C1095.5,92.8 1099.5,100.3 1108.0,110.0C1116.5,119.7 1132.2,135.2 1141.0,143.0C1149.8,150.8 1149.8,149.7 1161.0,157.0C1172.2,164.3 1193.8,178.0 1208.0,187.0C1222.2,196.0 1238.5,204.7 1246.0,211.0C1253.5,217.3 1252.0,217.7 1253.0,225.0C1254.0,232.3 1254.2,246.7 1252.0,255.0C1249.8,263.3 1247.3,267.5 1240.0,275.0C1232.7,282.5 1224.5,288.0 1208.0,300.0C1191.5,312.0 1160.5,335.3 1141.0,347.0C1121.5,358.7 1103.7,365.0 1091.0,370.0C1078.3,375.0 1073.3,376.0 1065.0,377.0C1056.7,378.0 1049.7,377.8 1041.0,376.0C1032.3,374.2 1023.5,371.0 1013.0,366.0C1002.5,361.0 988.3,353.2 978.0,346.0C967.7,338.8 959.2,332.0 951.0,323.0C942.8,314.0 934.5,302.0 929.0,292.0C923.5,282.0 921.3,273.3 918.0,263.0C914.7,252.7 911.8,242.8 909.0,230.0C906.2,217.2 902.5,197.2 901.0,186.0C899.5,174.8 900.0,169.7 900.0,163.0Z" fill="url(#dark)" stroke="#000" stroke-width="2" stroke-linejoin="round" stroke-linecap="round" />
<clipPath id="seatclip"><path d="M900.0,163.0C900.0,156.3 899.2,151.8 901.0,146.0C902.8,140.2 905.7,134.7 911.0,128.0C916.3,121.3 921.8,114.5 933.0,106.0C944.2,97.5 963.2,85.0 978.0,77.0C992.8,69.0 1011.0,62.2 1022.0,58.0C1033.0,53.8 1037.7,52.7 1044.0,52.0C1050.3,51.3 1054.8,52.2 1060.0,54.0C1065.2,55.8 1070.0,57.8 1075.0,63.0C1080.0,68.2 1084.5,77.2 1090.0,85.0C1095.5,92.8 1099.5,100.3 1108.0,110.0C1116.5,119.7 1132.2,135.2 1141.0,143.0C1149.8,150.8 1149.8,149.7 1161.0,157.0C1172.2,164.3 1193.8,178.0 1208.0,187.0C1222.2,196.0 1238.5,204.7 1246.0,211.0C1253.5,217.3 1252.0,217.7 1253.0,225.0C1254.0,232.3 1254.2,246.7 1252.0,255.0C1249.8,263.3 1247.3,267.5 1240.0,275.0C1232.7,282.5 1224.5,288.0 1208.0,300.0C1191.5,312.0 1160.5,335.3 1141.0,347.0C1121.5,358.7 1103.7,365.0 1091.0,370.0C1078.3,375.0 1073.3,376.0 1065.0,377.0C1056.7,378.0 1049.7,377.8 1041.0,376.0C1032.3,374.2 1023.5,371.0 1013.0,366.0C1002.5,361.0 988.3,353.2 978.0,346.0C967.7,338.8 959.2,332.0 951.0,323.0C942.8,314.0 934.5,302.0 929.0,292.0C923.5,282.0 921.3,273.3 918.0,263.0C914.7,252.7 911.8,242.8 909.0,230.0C906.2,217.2 902.5,197.2 901.0,186.0C899.5,174.8 900.0,169.7 900.0,163.0Z"/></clipPath><g clip-path="url(#seatclip)">
<path d="M931.9,108.4 L1038,63.7 Q1046,62 1049,67 L1052,118 Q1050,124 1040.8,126.6 L954.2,185.2 Q946,186 943,182.4 Z" fill="none" stroke="#c4c4c4" stroke-width="0.9" stroke-linejoin="round" stroke-linecap="round" />
<path d="M938.9,118.2 L1036.6,70.7 L1042.2,115.4 Q1040,121 1035.2,123.8 L951.4,178.2 Q946,178 944.4,174 Z" fill="none" stroke="#c4c4c4" stroke-width="0.8" stroke-linejoin="round" stroke-linecap="round" />
<path d="M929,112.6 Q915,125 910.9,140.5 Q905,160 906.8,179.6 L917.9,249.4 L931.9,235.5 Z" fill="none" stroke="#c4c4c4" stroke-width="0.8" stroke-linejoin="round" stroke-linecap="round" />
<path d="M918.0,249.4C921.2,247.2 930.0,240.7 937.0,236.0C944.0,231.3 946.7,231.8 959.8,221.5C972.9,211.2 997.0,187.0 1015.6,174.0C1034.2,161.0 1054.3,151.7 1071.5,143.3C1088.7,134.9 1107.4,124.3 1119.0,123.8C1130.6,123.3 1134.5,135.4 1141.0,140.5C1147.5,145.6 1155.2,152.2 1158.0,154.5" fill="none" stroke="#c4c4c4" stroke-width="0.7" stroke-linejoin="round" stroke-linecap="round" />
<path d="M918.9,252.5C922.1,250.2 930.8,243.4 937.9,238.4C945.0,233.5 948.1,233.4 961.4,223.1C974.6,212.7 998.5,189.3 1017.2,176.5C1035.8,163.7 1055.7,154.6 1073.1,146.4C1090.4,138.2 1110.0,128.2 1121.5,127.5C1133.0,126.8 1136.1,137.8 1142.2,142.3C1148.3,146.8 1155.6,152.6 1158.2,154.7" fill="none" stroke="#c4c4c4" stroke-width="0.7" stroke-linejoin="round" stroke-linecap="round" />
<path d="M919.8,255.6C923.0,253.1 931.6,246.1 938.8,240.9C946.0,235.7 949.6,234.9 962.9,224.6C976.2,214.3 1000.1,191.5 1018.7,179.0C1037.3,166.5 1057.1,157.5 1074.6,149.5C1092.2,141.5 1112.5,132.2 1124.0,131.2C1135.4,130.3 1137.7,140.1 1143.4,144.1C1149.2,148.0 1155.9,153.0 1158.4,154.8" fill="none" stroke="#c4c4c4" stroke-width="0.7" stroke-linejoin="round" stroke-linecap="round" />
<path d="M920.8,258.7C923.9,256.1 932.4,248.8 939.7,243.3C946.9,237.9 951.0,236.5 964.5,226.2C977.9,215.9 1001.6,193.7 1020.3,181.5C1038.9,169.2 1058.5,160.3 1076.2,152.6C1093.9,144.8 1115.0,136.1 1126.4,135.0C1137.9,133.8 1139.3,142.5 1144.7,145.8C1150.0,149.2 1156.3,153.5 1158.7,155.0" fill="none" stroke="#c4c4c4" stroke-width="0.7" stroke-linejoin="round" stroke-linecap="round" />
<path d="M921.7,261.8C924.8,259.1 933.2,251.5 940.6,245.8C947.9,240.1 952.5,238.0 966.0,227.7C979.6,217.4 1003.2,196.0 1021.8,184.0C1040.4,172.0 1059.9,163.2 1077.7,155.7C1095.6,148.2 1117.5,140.0 1128.9,138.7C1140.3,137.3 1140.9,144.9 1145.9,147.6C1150.9,150.4 1156.7,153.9 1158.9,155.2" fill="none" stroke="#c4c4c4" stroke-width="0.7" stroke-linejoin="round" stroke-linecap="round" />
<path d="M922.6,264.9C925.8,262.1 934.0,254.2 941.4,248.2C948.9,242.3 953.9,239.6 967.6,229.3C981.2,219.0 1004.8,198.2 1023.4,186.4C1042.0,174.7 1061.3,166.1 1079.3,158.8C1097.3,151.5 1120.1,144.0 1131.4,142.4C1142.7,140.8 1142.5,147.2 1147.1,149.4C1151.7,151.5 1157.1,154.3 1159.1,155.3" fill="none" stroke="#c4c4c4" stroke-width="0.7" stroke-linejoin="round" stroke-linecap="round" />
<path d="M923.5,268.0C926.7,265.1 934.7,256.9 942.3,250.7C949.9,244.5 955.4,241.1 969.1,230.8C982.9,220.5 1006.3,200.4 1024.9,188.9C1043.5,177.4 1062.7,169.0 1080.8,161.9C1099.0,154.8 1122.6,147.9 1133.9,146.1C1145.1,144.3 1144.1,149.6 1148.3,151.2C1152.6,152.7 1157.5,154.8 1159.3,155.5" fill="none" stroke="#c4c4c4" stroke-width="0.7" stroke-linejoin="round" stroke-linecap="round" />
<path d="M924.5,271.1C927.6,268.1 935.5,259.6 943.2,253.1C950.9,246.7 956.8,242.7 970.7,232.4C984.6,222.1 1007.9,202.7 1026.5,191.4C1045.1,180.2 1064.1,171.9 1082.4,165.0C1100.7,158.1 1125.2,151.9 1136.3,149.9C1147.5,147.8 1145.7,152.0 1149.6,152.9C1153.4,153.9 1157.9,155.2 1159.6,155.7" fill="none" stroke="#c4c4c4" stroke-width="0.7" stroke-linejoin="round" stroke-linecap="round" />
<path d="M925.4,274.2C928.5,271.1 936.3,262.3 944.1,255.6C951.9,248.8 958.3,244.2 972.2,233.9C986.2,223.7 1009.4,204.9 1028.0,193.9C1046.7,182.9 1065.5,174.8 1083.9,168.1C1102.4,161.4 1127.7,155.8 1138.8,153.6C1150.0,151.3 1147.3,154.3 1150.8,154.7C1154.3,155.1 1158.3,155.6 1159.8,155.8" fill="none" stroke="#c4c4c4" stroke-width="0.7" stroke-linejoin="round" stroke-linecap="round" />
<path d="M926.3,277.3C929.4,274.1 937.1,265.0 945.0,258.0C952.9,251.0 959.7,245.8 973.8,235.5C987.9,225.2 1011.0,207.1 1029.6,196.4C1048.2,185.7 1066.9,177.7 1085.5,171.2C1104.1,164.7 1130.2,159.8 1141.3,157.3C1152.4,154.9 1148.9,156.7 1152.0,156.5C1155.1,156.3 1158.7,156.1 1160.0,156.0" fill="none" stroke="#c4c4c4" stroke-width="0.7" stroke-linejoin="round" stroke-linecap="round" />
<path d="M996,257.8 L1119,188 Q1130,182 1141.3,182.4 L1233.4,229.9 Q1243,234 1241.8,238 L1239,246.6 L1074.3,344.3 Q1070,352 1066,347 L1063,341.6 Z" fill="none" stroke="#c4c4c4" stroke-width="0.9" stroke-linejoin="round" stroke-linecap="round" />
<path d="M1004.5,260.6 L1121.7,193.6 Q1130,189 1138.5,189.4 L1230.6,235.5 L1071.5,338.8 Z" fill="none" stroke="#c4c4c4" stroke-width="0.8" stroke-linejoin="round" stroke-linecap="round" />
<path d="M1099.4,260.6 Q1102,254 1107.8,253.6 L1158,280 L1135.7,296.9 Z" fill="none" stroke="#c4c4c4" stroke-width="0.8" stroke-linejoin="round" stroke-linecap="round" />
<path d="M1105,262 L1150,284 L1137,292" fill="none" stroke="#c4c4c4" stroke-width="0.7" stroke-linejoin="round" stroke-linecap="round" />
<path d="M918.0,271.8C920.8,276.0 928.0,289.1 935.0,297.0C942.0,304.9 949.8,311.0 959.8,319.2C969.8,327.4 983.4,338.1 995.0,346.0C1006.6,353.9 1017.3,362.3 1029.6,366.7C1041.9,371.1 1055.3,374.8 1068.7,372.3C1082.1,369.9 1091.5,362.7 1110.0,352.0C1128.5,341.3 1156.7,323.7 1180.0,308.0C1203.3,292.3 1238.3,266.2 1250.0,257.8" fill="none" stroke="#c4c4c4" stroke-width="0.9" stroke-linejoin="round" stroke-linecap="round" />
<path d="M913.0,262.0C915.8,267.0 923.0,283.0 930.0,292.0C937.0,301.0 945.0,307.3 955.0,316.0C965.0,324.7 977.7,336.5 990.0,344.0C1002.3,351.5 1016.0,357.3 1029.0,361.0C1042.0,364.7 1054.5,368.5 1068.0,366.0C1081.5,363.5 1091.3,356.7 1110.0,346.0C1128.7,335.3 1157.2,317.7 1180.0,302.0C1202.8,286.3 1235.8,260.3 1247.0,252.0" fill="none" stroke="#c4c4c4" stroke-width="0.7" stroke-linejoin="round" stroke-linecap="round" />
</g>
<text x="1200" y="117.9" font-size="22" text-anchor="middle">1</text>
<polygon points="1161.3,157.2 1186.1,117.7 1183.9,116.3 1160.7,156.8" fill="#000"/>
<path d="M846,339 Q840,337 833,341 L705,416 Q695,424 696,440 L705,549 Q707,560 715,567 L761,609 L828,659 Q842,672 849,690 L881,754 Q890,768 906,775 L949,790 L941,748 Q938,720 937,691 L939,659.5 L926,653 Q929,642 934,637.5 Q938,633 943,631.8 L955.4,643.3 L1086,585 Q1092,615 1096,637 Q1100,660 1110,669 L1122,668 L1135,652 L1146,637 L1142,539 Q1141,525 1137,521 Z" fill="url(#light)" stroke="#000" stroke-width="2" stroke-linejoin="round" stroke-linecap="round" />
<path d="M943,631 Q1010,608 1086,573 Q1125,552 1138,528" fill="none" stroke="#000" stroke-width="0.8" stroke-linejoin="round" stroke-linecap="round" />
<path d="M926,653 L925,708 Q926,735 934,761 L945,791" fill="none" stroke="#000" stroke-width="0.8" stroke-linejoin="round" stroke-linecap="round" />
<ellipse cx="933" cy="672" rx="1.2" ry="1.5" fill="none" stroke="#000" stroke-width="0.6"/>
<path d="M950,632 Q1080,580 1139,540" fill="none" stroke="#000" stroke-width="0.8" stroke-linejoin="round" stroke-linecap="round" />
<path d="M1086,585 Q1092,615 1096,637 Q1100,660 1110,669" fill="none" stroke="#000" stroke-width="1.6" stroke-linejoin="round" stroke-linecap="round" />
<ellipse cx="1123" cy="627" rx="9" ry="16" fill="#fdfefc" stroke="#000" stroke-width="1.6" transform="rotate(-8 1123 627)"/>
<path d="M742,440 Q740,434 747,430 L858,369 Q864,366 870,370 L1105,514 Q1111,519 1108,527 L1100,536 Q1040,580 945,612 Q930,616 925,608 Z" fill="none" stroke="#000" stroke-width="0.8" stroke-linejoin="round" stroke-linecap="round" />
<path d="M765,441 L868,383 Q874,380 880,384 L960,432" fill="none" stroke="#000" stroke-width="0.8" stroke-linejoin="round" stroke-linecap="round" />
<path d="M789.2,456 L894.3,393.9 Q906,392 911.5,400.6 L909.6,406.3 L872.3,423.5" fill="none" stroke="#000" stroke-width="0.8" stroke-linejoin="round" stroke-linecap="round" />
<path d="M806.4,473 L919,407 Q930,405 936.3,415 L934,420 L878,446.4" fill="none" stroke="#000" stroke-width="0.8" stroke-linejoin="round" stroke-linecap="round" />
<path d="M823.6,489.4 L942,421.6 Q953,420 959.2,429.2 L957,434 L894.3,465.5" fill="none" stroke="#000" stroke-width="0.8" stroke-linejoin="round" stroke-linecap="round" />
<path d="M795,452 L897,399 M812,470 L922,412 M829,487 L945,427" fill="none" stroke="#000" stroke-width="0.7" stroke-linejoin="round" stroke-linecap="round" />
<path d="M794,461.7 L870.4,415.8 L872.3,423.5 L802.6,467.4 Q796,468 794,461.7 Z" fill="#fdfefc" stroke="#000" stroke-width="2.2" stroke-linejoin="round" stroke-linecap="round" />
<path d="M811.2,479.8 L877,439.7 L878,446.4 L817.9,484.6 Q813,485 811.2,479.8 Z" fill="#fdfefc" stroke="#000" stroke-width="2.2" stroke-linejoin="round" stroke-linecap="round" />
<path d="M827.4,496 L882.8,461.7 L892.4,463.6 L894.3,465.5 L838.9,501.8 L831.2,502.8 Q828,501 827.4,496 Z" fill="#fdfefc" stroke="#000" stroke-width="2.2" stroke-linejoin="round" stroke-linecap="round" />
<path d="M728,495 Q735,492 745,500 Q800,560 878,613 L927,648" fill="none" stroke="#000" stroke-width="0.8" stroke-linejoin="round" stroke-linecap="round" />
<path d="M728,495 L733,574 Q735,585 745,592" fill="none" stroke="#000" stroke-width="0.8" stroke-linejoin="round" stroke-linecap="round" />
<path d="M735,500 Q800,575 925,660" fill="none" stroke="#000" stroke-width="0.7" stroke-linejoin="round" stroke-linecap="round" />
<text x="1125" y="438.9" font-size="22" text-anchor="middle">25</text>
<polygon points="1075.2,470.2 1107.9,438.9 1106.1,437.1 1074.8,469.8" fill="#000"/>
<text x="1206" y="555.9" font-size="22" text-anchor="middle">26</text>
<polygon points="1189.3,606.1 1202.3,562.3 1199.7,561.7 1188.7,605.9" fill="#000"/>
<path d="M1188.5,611.5 Q1196,616 1200,624.8 L1206.6,645.8 L1210.5,691.7 L1207.6,722.3 L1204.7,752.8 L1200,772 L1190.4,794.8 L1182.8,810 L1177,825.4 L1137,854 L1098.7,875 L1060.5,892.3 L1054.8,898 L1041.4,900 L1038.5,895 L1039.5,884.6 L986,871.3 L983,865.5 L980.3,829.2 L978.4,772 L979.3,749 Q980,742 983,737.5 Q986,731 989.8,728 L997.5,722.3 Q1020,713 1041.4,707 Q1065,697 1089,684 Q1110,672 1127.4,659.2 Q1143,648 1156,636.3 L1177,617.2 Q1183,611 1188.5,611.5 Z" fill="url(#dark)" stroke="#000" stroke-width="2" stroke-linejoin="round" stroke-linecap="round" />
<path d="M980.3,751 Q980.5,742 984,735.6 Q989,727 997.5,722.3 L1010,742.3 Q1005,748 1004,754.7 Q990,748 980.3,751 Z" fill="#fdfefc" stroke="none" stroke-width="1.5" stroke-linejoin="round" stroke-linecap="round" />
<path d="M986,864.6 L1056.7,875 L1054.8,894 L1049,880.8 L989.8,875 Z" fill="#fdfefc" stroke="none" stroke-width="1.5" stroke-linejoin="round" stroke-linecap="round" />
<path d="M986,871.3 L1039.5,884.6" fill="none" stroke="#000" stroke-width="1.6" stroke-linejoin="round" stroke-linecap="round" />
<path d="M1005,752.8 Q1010,748 1018.5,747 L1079.6,733.7 Q1110,722 1137,707 Q1160,694 1175,682 Q1187,672 1194,663 Q1201,654 1205.7,645.8" fill="none" stroke="#fdfefc" stroke-width="1.5" stroke-linejoin="round" stroke-linecap="round" />
<path d="M1007,757 Q1012,751 1020,750.5 L1080,737.5 Q1110,726 1138,711 Q1161,698 1176.5,686 Q1189,676 1196,667 Q1203,658 1207,650" fill="none" stroke="#fdfefc" stroke-width="1.0" stroke-linejoin="round" stroke-linecap="round" />
<path d="M980.3,751 Q992,748 1005,754" fill="none" stroke="#fdfefc" stroke-width="1.2" stroke-linejoin="round" stroke-linecap="round" />
<path d="M1006,758 Q1006,754 1010,754 L1084.4,748 Q1089,748 1089,752.8 L1093,794.8 Q1093,800 1087.3,800.6 L1016.6,810 Q1009,809 1008,802.5 Z" fill="none" stroke="#fdfefc" stroke-width="2" stroke-linejoin="round" stroke-linecap="round" />
<path d="M1016.6,766 Q1016.6,763 1020,762.5 L1077.7,751 Q1082,751 1083.4,758.5 L1087.3,793 Q1087,797 1083,797.5 L1022.3,807.3 Z" fill="none" stroke="#fdfefc" stroke-width="1.6" stroke-linejoin="round" stroke-linecap="round" />
<path d="M1022.3,764.3 L1073.9,754.7 Q1079,755 1080.6,760.5 L1083.4,788 Q1083,792 1077.7,793 L1030,803.4 L1024.2,798.7 Z" fill="#fdfefc" stroke="#000" stroke-width="1.2" stroke-linejoin="round" stroke-linecap="round" />
<path d="M1099.7,749 Q1099.7,746 1103,744.5 L1172.3,700.3 L1177,703 L1179,714.6 L1106.4,762.4 L1101,759 Z" fill="none" stroke="#fdfefc" stroke-width="2" stroke-linejoin="round" stroke-linecap="round" />
<path d="M1104,751 L1171,708 L1173,713" fill="none" stroke="#fdfefc" stroke-width="1.2" stroke-linejoin="round" stroke-linecap="round" />
<path d="M1102.5,774 Q1102.5,771 1106,769.5 L1179,731.8 L1180.9,745 L1107.3,788 L1103.5,785 Z" fill="none" stroke="#fdfefc" stroke-width="2" stroke-linejoin="round" stroke-linecap="round" />
<path d="M1107,775 L1176,739" fill="none" stroke="#fdfefc" stroke-width="1.2" stroke-linejoin="round" stroke-linecap="round" />
<path d="M1106.4,805.3 L1173.2,766 L1179,768 L1178,791 L1171.3,798.7 L1107.3,838.8 L1101.6,836 Z" fill="none" stroke="#fdfefc" stroke-width="2" stroke-linejoin="round" stroke-linecap="round" />
<path d="M1109,810 L1170,774 L1169,795 L1110,832 Z" fill="none" stroke="#fdfefc" stroke-width="1" stroke-linejoin="round" stroke-linecap="round" />
<path d="M1172.3,700.3 L1179,731.8 L1173.2,766" fill="none" stroke="#fdfefc" stroke-width="1.4" stroke-linejoin="round" stroke-linecap="round" />
<path d="M1184.7,731.8 L1204.7,707 L1206.6,653.5" fill="none" stroke="#fdfefc" stroke-width="1.6" stroke-linejoin="round" stroke-linecap="round" />
<path d="M1184,700 L1183.7,695.5 L1192.3,682 L1204,662" fill="none" stroke="#fdfefc" stroke-width="1.2" stroke-linejoin="round" stroke-linecap="round" />
<polygon points="1183.7,697.4 1191.4,684.0 1187.5,722.0" fill="#fdfefc" stroke="none" stroke-width="1.5" stroke-linejoin="round" stroke-linecap="round" />
<path d="M1184.7,731.8 L1184.7,779.6 L1203.8,758.5 L1204.7,745" fill="none" stroke="#fdfefc" stroke-width="1.4" stroke-linejoin="round" stroke-linecap="round" />
<path d="M1184.7,740 L1204,716" fill="none" stroke="#fdfefc" stroke-width="1.0" stroke-linejoin="round" stroke-linecap="round" />
<path d="M1008,806.3 L1009,815.9 Q1011,822 1018.5,822.5 L1081.5,814 L1079.6,840.7 L1087.3,844.5 L1091,814 Q1091,809 1087.3,809.2 Z" fill="none" stroke="#fdfefc" stroke-width="1.8" stroke-linejoin="round" stroke-linecap="round" />
<path d="M1083,818 L1081.5,838" fill="none" stroke="#fdfefc" stroke-width="2.5" stroke-linejoin="round" stroke-linecap="round" />
<path d="M1008,857.9 Q1008,854.5 1012.8,854 L1079.6,840.7 M1008,857.9 L1010.8,867.4 L1056.7,867.4" fill="none" stroke="#fdfefc" stroke-width="1.8" stroke-linejoin="round" stroke-linecap="round" />
<path d="M1014,859 L1075,847" fill="none" stroke="#fdfefc" stroke-width="1.0" stroke-linejoin="round" stroke-linecap="round" />
<path d="M1056.7,875 L1100,858 L1177,818" fill="none" stroke="#fdfefc" stroke-width="1.4" stroke-linejoin="round" stroke-linecap="round" />
<polygon points="1037.7,885.8 1057.5,874.9 1059.5,885.8 1053.6,895.7 1041.7,897.7" fill="#fdfefc" stroke="#000" stroke-width="1.4" stroke-linejoin="round" stroke-linecap="round" />
<polygon points="1041.0,887.0 1050.0,882.0 1051.0,890.0 1045.0,894.0" fill="#222" stroke="#000" stroke-width="0.8" stroke-linejoin="round" stroke-linecap="round" />
<line x1="988" y1="863" x2="952" y2="888" stroke="#000" stroke-width="1.8" stroke-linecap="round" />
<g transform="translate(938,897) rotate(-31.0)" stroke="#000" stroke-width="1.0" fill="#fdfefc" stroke-linejoin="round">
<rect x="3.5" y="-2.8" width="14.0" height="5.6" stroke="none"/>
<line x1="5.4" y1="-4.1" x2="7.2" y2="4.1"/>
<line x1="8.4" y1="-4.1" x2="10.2" y2="4.1"/>
<line x1="11.4" y1="-4.1" x2="13.2" y2="4.1"/>
<line x1="14.4" y1="-4.1" x2="16.2" y2="4.1"/>
<line x1="17.4" y1="-4.1" x2="19.2" y2="4.1"/>
<ellipse cx="0" cy="0" rx="5.6" ry="8.0"/>
<path d="M-2.1,-4.2 Q2.1,0 -2.1,4.2" fill="none"/>
</g>
<path d="M926.8,931.2 L926.8,939.5 Q933.7,944 940.6,939.5 L940.6,931.2" fill="#fdfefc" stroke="#000" stroke-width="1" stroke-linejoin="round" stroke-linecap="round" />
<ellipse cx="933.7" cy="931.2" rx="6.9" ry="3.2" fill="#fdfefc" stroke="#000" stroke-width="1"/>
<path d="M1060,901 Q1060,915 1075,916 Q1092,916 1100,908" fill="none" stroke="#000" stroke-width="0.8" stroke-linejoin="round" stroke-linecap="round" />
<path d="M1104,894.5 L1113,895 L1119,900 L1119.5,908 L1115,914 L1106,913 Z" fill="#fdfefc" stroke="#000" stroke-width="1" stroke-linejoin="round" stroke-linecap="round" />
<ellipse cx="1104.5" cy="904" rx="5.8" ry="9.3" fill="#fdfefc" stroke="#000" stroke-width="1" transform="rotate(-8 1104.5 904)"/>
<ellipse cx="1105" cy="904" rx="3.8" ry="6.3" fill="#fdfefc" stroke="#000" stroke-width="0.9" transform="rotate(-8 1105 904)"/>
<ellipse cx="1105.3" cy="904.2" rx="2" ry="3.2" fill="none" stroke="#000" stroke-width="1" transform="rotate(-8 1105.3 904.2)"/>
<text x="1191" y="889.9" font-size="22" text-anchor="middle">20</text>
<polygon points="1124.1,894.3 1168.3,884.3 1167.7,881.7 1123.9,893.7" fill="#000"/>
<text x="862" y="823.9" font-size="22" text-anchor="middle">32</text>
<polygon points="846.5,880.1 858.3,836.3 855.7,835.7 845.9,879.9" fill="#000"/>
<text x="905" y="839.9" font-size="22" text-anchor="middle">31</text>
<polygon points="930.3,887.3 912.2,849.4 909.8,850.6 929.7,887.7" fill="#000"/>
<text x="897" y="893.9" font-size="22" text-anchor="middle">30</text>
<polygon points="927.8,925.4 906.6,899.7 904.6,901.5 927.2,925.8" fill="#000"/>
<text x="797.5" y="891.9" font-size="22" text-anchor="middle">33</text>
<polygon points="820.3,939.8 798.1,899.4 795.9,900.6 819.7,940.2" fill="#000"/>
<path d="M173.8,942.8 L288.7,878.6 L350.4,910.7 L350.4,1012.1 L332.7,1023.9 L273.5,990.1 L283.7,976.6 Q288,974 289.6,978.3 L285.3,988.4 L290.4,980.8 L219.4,985.9 L219.4,960 Z" fill="#fdfefc" stroke="none" stroke-width="0" stroke-linejoin="round" stroke-linecap="round" />
<path d="M160.3,952.1 Q165,946 173.8,942.8 L288.7,878.6 L350.4,910.7 L350.4,1012.1 L332.7,1023.9 L273.5,990.1" fill="none" stroke="#000" stroke-width="1.8" stroke-linejoin="round" stroke-linecap="round" />
<path d="M273.5,990.1 L283.7,976.6 Q288,974 289.6,978.3 L285.3,988.4" fill="none" stroke="#000" stroke-width="1.6" stroke-linejoin="round" stroke-linecap="round" />
<path d="M275,989 L284.5,995.5" fill="none" stroke="#000" stroke-width="1.6" stroke-linejoin="round" stroke-linecap="round" />
<line x1="288.7" y1="879.4" x2="284.5" y2="974.9" stroke="#000" stroke-width="0.7" stroke-linecap="round" />
<line x1="290.4" y1="980.8" x2="347.9" y2="1011.3" stroke="#000" stroke-width="0.7" stroke-linecap="round" />
<path d="M174.6,943.7 L280.3,886.2 Q284,888 282.8,891.3 L280.3,895.5 L190.7,944.5 Q183,948 178.9,946.2 Q175,946 174.6,943.7 Z" fill="#fdfefc" stroke="#000" stroke-width="0.7" stroke-linejoin="round" stroke-linecap="round" />
<path d="M297.2,885.4 L346.2,912.4 Q347,915 344.5,915.8 Q340,917 336,914.9 L297.2,892.1 Q294,888 297.2,885.4 Z" fill="#fdfefc" stroke="#000" stroke-width="0.7" stroke-linejoin="round" stroke-linecap="round" />
<ellipse cx="265" cy="914.9" rx="1.8" ry="3" fill="none" stroke="#000" stroke-width="0.7" transform="rotate(30 265 914.9)"/>
<ellipse cx="271.5" cy="891.5" rx="1.2" ry="0.9" fill="none" stroke="#000" stroke-width="0.6"/>
<ellipse cx="337.5" cy="909.5" rx="1.4" ry="1" fill="none" stroke="#000" stroke-width="0.6"/>
<path d="M160.3,952.1 L156.9,1051 L219.4,1089.8 L237.2,1079.7 L221.1,1069.6 L219.4,985.9 L231.3,976.6 L189,954.6 Q183,952 178.9,953.8 Q175,955 173.8,958 Q166,953 160.3,952.1 Z" fill="#fdfefc" stroke="none" stroke-width="1.5" stroke-linejoin="round" stroke-linecap="round" />
<path d="M160.3,952.1 L156.9,1051 L219.4,1089.8 L237.2,1079.7 L221.1,1069.6" fill="none" stroke="#000" stroke-width="1.8" stroke-linejoin="round" stroke-linecap="round" />
<line x1="219.4" y1="985.9" x2="219.4" y2="1088" stroke="#000" stroke-width="1.0" stroke-linecap="round" />
<path d="M160.3,952.1 Q168,953 173.8,958 Q175,955 178.9,953.8 Q183,952 189,954.6 L231.3,976.6 L231.3,979 L219.4,985.9" fill="none" stroke="#000" stroke-width="0.7" stroke-linejoin="round" stroke-linecap="round" />
<path d="M221.1,1035.8 L283.7,999.4" fill="none" stroke="#000" stroke-width="2" stroke-linejoin="round" stroke-linecap="round" />
<path d="M221.1,1015.5 L265,990.1" fill="none" stroke="#000" stroke-width="0.7" stroke-linejoin="round" stroke-linecap="round" />
<ellipse cx="188.5" cy="940.5" rx="2.2" ry="1.4" fill="none" stroke="#000" stroke-width="0.7"/>
<ellipse cx="218.6" cy="978" rx="2.2" ry="1.4" fill="none" stroke="#000" stroke-width="0.7"/>
<ellipse cx="267" cy="1003" rx="2.2" ry="1.4" fill="none" stroke="#000" stroke-width="0.7"/>
<ellipse cx="285.3" cy="990" rx="2.2" ry="1.4" fill="none" stroke="#000" stroke-width="0.7"/>
<ellipse cx="328.5" cy="1013.5" rx="2.2" ry="1.4" fill="none" stroke="#000" stroke-width="0.7"/>
<line x1="188.2" y1="717" x2="188.2" y2="939" stroke="#000" stroke-width="1.8" stroke-linecap="round" stroke-dasharray="70 8 10 8"/>
<line x1="218.6" y1="775" x2="218.6" y2="978" stroke="#000" stroke-width="1.8" stroke-linecap="round" stroke-dasharray="120 8 10 8 200"/>
<g stroke="#000" stroke-width="1.0" fill="#fdfefc" stroke-linejoin="round">
<rect x="263.6" y="945.8" width="6.5" height="19.2"/>
<line x1="262.4" y1="945.0" x2="271.2" y2="946.5"/>
<line x1="262.4" y1="948.5" x2="271.2" y2="950.0"/>
<line x1="262.4" y1="952.0" x2="271.2" y2="953.5"/>
<line x1="262.4" y1="955.5" x2="271.2" y2="957.0"/>
<line x1="262.4" y1="959.0" x2="271.2" y2="960.5"/>
<line x1="262.4" y1="962.5" x2="271.2" y2="964.0"/>
<polygon points="263.2,936.0 270.4,936.0 273.3,938.6 273.3,943.8 270.1,946.4 263.6,946.4 260.3,943.8 260.3,938.6"/>
<polyline fill="none" points="260.3,938.6 263.6,941.2 270.1,941.2 273.3,938.6"/>
</g>
<g stroke="#000" stroke-width="1.0" fill="#fdfefc" stroke-linejoin="round">
<rect x="289.8" y="934.8" width="6.5" height="20.2"/>
<line x1="288.6" y1="934.0" x2="297.4" y2="935.5"/>
<line x1="288.6" y1="937.5" x2="297.4" y2="939.0"/>
<line x1="288.6" y1="941.0" x2="297.4" y2="942.5"/>
<line x1="288.6" y1="944.5" x2="297.4" y2="946.0"/>
<line x1="288.6" y1="948.0" x2="297.4" y2="949.5"/>
<line x1="288.6" y1="951.5" x2="297.4" y2="953.0"/>
<polygon points="289.4,925.0 296.6,925.0 299.5,927.6 299.5,932.8 296.2,935.4 289.8,935.4 286.5,932.8 286.5,927.6"/>
<polyline fill="none" points="286.5,927.6 289.8,930.2 296.2,930.2 299.5,927.6"/>
</g>
<g stroke="#000" stroke-width="1.0" fill="#fdfefc" stroke-linejoin="round">
<rect x="326.1" y="964.8" width="6.5" height="19.2"/>
<line x1="324.9" y1="964.0" x2="333.8" y2="965.5"/>
<line x1="324.9" y1="967.5" x2="333.8" y2="969.0"/>
<line x1="324.9" y1="971.0" x2="333.8" y2="972.5"/>
<line x1="324.9" y1="974.5" x2="333.8" y2="976.0"/>
<line x1="324.9" y1="978.0" x2="333.8" y2="979.5"/>
<line x1="324.9" y1="981.5" x2="333.8" y2="983.0"/>
<polygon points="325.7,955.0 332.9,955.0 335.8,957.6 335.8,962.8 332.6,965.4 326.1,965.4 322.8,962.8 322.8,957.6"/>
<polyline fill="none" points="322.8,957.6 326.1,960.2 332.6,960.2 335.8,957.6"/>
</g>
<path d="M265.9,965 L265.9,1070 Q240,1078 236,1100 L233.4,1141.7" fill="none" stroke="#000" stroke-width="1.6" stroke-linejoin="round" stroke-linecap="round" />
<path d="M285,987 L285,1087 Q257,1092 254,1112 L252.8,1128.8" fill="none" stroke="#000" stroke-width="1.6" stroke-linejoin="round" stroke-linecap="round" stroke-dasharray="48 7 9 7 200"/>
<line x1="328" y1="985" x2="328" y2="1230" stroke="#000" stroke-width="1.6" stroke-linecap="round" stroke-dasharray="80 8 10 8"/>
<text x="88" y="979.9" font-size="22" text-anchor="middle">47</text>
<polygon points="155.1,983.7 110.3,971.7 109.7,974.3 154.9,984.3" fill="#000"/>
<text x="242" y="880.9" font-size="22" text-anchor="middle">16</text>
<polygon points="258.3,932.9 244.2,889.6 241.8,890.4 257.7,933.1" fill="#000"/>
<text x="413" y="944.9" font-size="22" text-anchor="middle">16</text>
<polygon points="307.0,928.3 392.9,937.1 393.1,934.9 307.0,927.7" fill="#000"/>
<polygon points="337.1,957.3 393.4,937.0 392.6,935.0 336.9,956.7" fill="#000"/>
<path d="M124.2,1194.3 L247.9,1122.3 L268.1,1132.8 Q272,1135 272.2,1138.5 L273,1166 Q272,1173 268.1,1177.3 L261.7,1187 L255.2,1187.8 L249.5,1183.8 L244.7,1186.2 L243,1190.2 L134.8,1253.3 L130.7,1261.4 L124.2,1263.8 L112.1,1255 L118.6,1243.6 L121,1200 Z" fill="#fdfefc" stroke="#000" stroke-width="1.8" stroke-linejoin="round" stroke-linecap="round" />
<path d="M145.3,1201.5 L261.7,1133.6 M146.5,1203.5 L262,1136 M124.2,1194.3 L145.3,1201.5 M261.7,1133.6 L247.9,1122.3 M261.7,1133.6 L268.1,1132.8" fill="none" stroke="#000" stroke-width="0.7" stroke-linejoin="round" stroke-linecap="round" />
<path d="M122.6,1201.5 L135.6,1209.6 Q139,1212 139.6,1216 L138.8,1245.2 L130.7,1261.4" fill="none" stroke="#000" stroke-width="1.5" stroke-linejoin="round" stroke-linecap="round" />
<path d="M252.5,1137 L249.5,1183.8" fill="none" stroke="#000" stroke-width="0.8" stroke-linejoin="round" stroke-linecap="round" />
<path d="M135,1198 L158,1203 L140,1192 M243,1127 L252,1138 L260,1128" fill="none" stroke="#000" stroke-width="0.7" stroke-linejoin="round" stroke-linecap="round" />
<path d="M142,1221 Q148,1210 156.6,1206.4 Q163,1203 171.1,1201.5" fill="none" stroke="#000" stroke-width="1.7" stroke-linejoin="round" stroke-linecap="round" />
<line x1="177.6" y1="1200.7" x2="192.1" y2="1196.7" stroke="#000" stroke-width="1.8" stroke-linecap="round" />
<path d="M142,1224 Q150,1223 151.7,1227.4 Q155,1238 155.8,1251.6 L153.3,1280 Q155,1303 162,1313" fill="none" stroke="#000" stroke-width="1.6" stroke-linejoin="round" stroke-linecap="round" />
<path d="M157,1211 Q166,1209 166,1214.5 Q163,1218 158,1216 M128,1237 Q134,1236 134,1241 Q132,1244 128,1243" fill="none" stroke="#000" stroke-width="1.5" stroke-linejoin="round" stroke-linecap="round" />
<ellipse cx="163" cy="1184" rx="2.5" ry="1.8" fill="none" stroke="#000" stroke-width="0.7"/>
<ellipse cx="143.5" cy="1195" rx="2.5" ry="1.8" fill="none" stroke="#000" stroke-width="0.7"/>
<ellipse cx="134" cy="1213" rx="2.5" ry="1.8" fill="none" stroke="#000" stroke-width="0.7"/>
<ellipse cx="131" cy="1231" rx="2.5" ry="1.8" fill="none" stroke="#000" stroke-width="0.7"/>
<ellipse cx="238" cy="1178" rx="2.5" ry="3.5" fill="none" stroke="#000" stroke-width="0.8" transform="rotate(25 238 1178)"/>
<ellipse cx="264" cy="1154" rx="2" ry="3" fill="none" stroke="#000" stroke-width="0.8" transform="rotate(25 264 1154)"/>
<ellipse cx="266" cy="1138" rx="2" ry="3" fill="none" stroke="#000" stroke-width="0.8" transform="rotate(25 266 1138)"/>
<ellipse cx="253.5" cy="1131" rx="2.5" ry="1.5" fill="none" stroke="#000" stroke-width="0.8"/>
<ellipse cx="233.5" cy="1142" rx="2" ry="1.3" fill="none" stroke="#000" stroke-width="0.8"/>
<line x1="233.4" y1="1141.7" x2="233.4" y2="1120" stroke="#000" stroke-width="1.6" stroke-linecap="round" />
<line x1="252.8" y1="1128.8" x2="252.8" y2="1120" stroke="#000" stroke-width="1.6" stroke-linecap="round" />
<path d="M252.8,1141.7 Q253,1152 255.2,1162.7 Q257,1173 261.7,1180.5 Q266,1187 273,1190.2 L285.9,1191.8 L287.5,1206.4" fill="none" stroke="#000" stroke-width="1.6" stroke-linejoin="round" stroke-linecap="round" />
<text x="132.5" y="1121.9" font-size="22" text-anchor="middle">46</text>
<polygon points="149.3,1174.9 138.3,1131.7 135.7,1132.3 148.7,1175.1" fill="#000"/>
<g transform="translate(85,1256) rotate(-26.6)" stroke="#000" stroke-width="1.0" fill="#fdfefc" stroke-linejoin="round">
<rect x="3.6" y="-2.7" width="18.8" height="5.4"/>
<line x1="7.2" y1="-3.9" x2="8.8" y2="3.9"/>
<line x1="10.4" y1="-3.9" x2="12.0" y2="3.9"/>
<line x1="13.6" y1="-3.9" x2="15.2" y2="3.9"/>
<line x1="16.8" y1="-3.9" x2="18.4" y2="3.9"/>
<line x1="20.0" y1="-3.9" x2="21.6" y2="3.9"/>
<ellipse cx="0" cy="0" rx="4.5" ry="6.0"/>
<ellipse cx="-2.7" cy="0" rx="4.2" ry="5.7"/>
</g>
<line x1="105" y1="1246" x2="132.3" y2="1230.6" stroke="#000" stroke-width="1.8" stroke-linecap="round" />
<text x="68" y="1189.9" font-size="22" text-anchor="middle">16</text>
<polygon points="82.3,1244.9 71.3,1199.7 68.7,1200.3 81.7,1245.1" fill="#000"/>
<path d="M160,1275 L177,1267 L267,1317 L268,1323 L280,1325 Q290,1328 289,1336 Q294,1340 301,1336 L310,1342 L673,1557 L682,1560 L747,1595 L752,1602 L767,1607 L777,1613 L763,1623 L763,1647 L777,1653 L765,1662 L760,1660 L162,1315 Z" fill="#fdfefc" stroke="#000" stroke-width="2" stroke-linejoin="round" stroke-linecap="round" />
<line x1="160" y1="1275" x2="763" y2="1623" stroke="#000" stroke-width="0.8" stroke-linecap="round" />
<line x1="160" y1="1275" x2="162" y2="1315" stroke="#000" stroke-width="1.2" stroke-linecap="round" />
<ellipse cx="358" cy="1420" rx="6" ry="8" fill="none" stroke="#000" stroke-width="0.9" transform="rotate(-30 358 1420)"/>
<polygon points="302.0,1386.0 306.0,1388.0 306.0,1394.0 302.0,1392.0" fill="none" stroke="#000" stroke-width="0.8" stroke-linejoin="round" stroke-linecap="round" />
<ellipse cx="177" cy="1273" rx="2.2" ry="1.7" fill="none" stroke="#000" stroke-width="0.7" transform="rotate(30 177 1273)"/>
<ellipse cx="171" cy="1292" rx="2.2" ry="1.7" fill="none" stroke="#000" stroke-width="0.7" transform="rotate(30 171 1292)"/>
<ellipse cx="167" cy="1311" rx="2.2" ry="1.7" fill="none" stroke="#000" stroke-width="0.7" transform="rotate(30 167 1311)"/>
<ellipse cx="207" cy="1290" rx="2.2" ry="1.7" fill="none" stroke="#000" stroke-width="0.7" transform="rotate(30 207 1290)"/>
<ellipse cx="216" cy="1317" rx="2.2" ry="1.7" fill="none" stroke="#000" stroke-width="0.7" transform="rotate(30 216 1317)"/>
<ellipse cx="203" cy="1332" rx="2.2" ry="1.7" fill="none" stroke="#000" stroke-width="0.7" transform="rotate(30 203 1332)"/>
<ellipse cx="225" cy="1344" rx="2.2" ry="1.7" fill="none" stroke="#000" stroke-width="0.7" transform="rotate(30 225 1344)"/>
<ellipse cx="247" cy="1353" rx="2.2" ry="1.7" fill="none" stroke="#000" stroke-width="0.7" transform="rotate(30 247 1353)"/>
<ellipse cx="262" cy="1325" rx="2.2" ry="1.7" fill="none" stroke="#000" stroke-width="0.7" transform="rotate(30 262 1325)"/>
<ellipse cx="274" cy="1335" rx="2.2" ry="1.7" fill="none" stroke="#000" stroke-width="0.7" transform="rotate(30 274 1335)"/>
<ellipse cx="297" cy="1345" rx="2.2" ry="1.7" fill="none" stroke="#000" stroke-width="0.7" transform="rotate(30 297 1345)"/>
<ellipse cx="483" cy="1475" rx="2.2" ry="1.7" fill="none" stroke="#000" stroke-width="0.7" transform="rotate(30 483 1475)"/>
<ellipse cx="525" cy="1472" rx="2.2" ry="1.7" fill="none" stroke="#000" stroke-width="0.7" transform="rotate(30 525 1472)"/>
<ellipse cx="535" cy="1480" rx="2.2" ry="1.7" fill="none" stroke="#000" stroke-width="0.7" transform="rotate(30 535 1480)"/>
<ellipse cx="519" cy="1516" rx="2.2" ry="1.7" fill="none" stroke="#000" stroke-width="0.7" transform="rotate(30 519 1516)"/>
<ellipse cx="573" cy="1503" rx="2.2" ry="1.7" fill="none" stroke="#000" stroke-width="0.7" transform="rotate(30 573 1503)"/>
<ellipse cx="533" cy="1545" rx="2.2" ry="1.7" fill="none" stroke="#000" stroke-width="0.7" transform="rotate(30 533 1545)"/>
<ellipse cx="548" cy="1522" rx="2.2" ry="1.7" fill="none" stroke="#000" stroke-width="0.7" transform="rotate(30 548 1522)"/>
<ellipse cx="565" cy="1527" rx="2.2" ry="1.7" fill="none" stroke="#000" stroke-width="0.7" transform="rotate(30 565 1527)"/>
<ellipse cx="600" cy="1543" rx="2.2" ry="1.7" fill="none" stroke="#000" stroke-width="0.7" transform="rotate(30 600 1543)"/>
<ellipse cx="621" cy="1548" rx="2.2" ry="1.7" fill="none" stroke="#000" stroke-width="0.7" transform="rotate(30 621 1548)"/>
<ellipse cx="643" cy="1566" rx="2.2" ry="1.7" fill="none" stroke="#000" stroke-width="0.7" transform="rotate(30 643 1566)"/>
<ellipse cx="653" cy="1547" rx="2.2" ry="1.7" fill="none" stroke="#000" stroke-width="0.7" transform="rotate(30 653 1547)"/>
<ellipse cx="705" cy="1610" rx="2.2" ry="1.7" fill="none" stroke="#000" stroke-width="0.7" transform="rotate(30 705 1610)"/>
<ellipse cx="735" cy="1636" rx="2.2" ry="1.7" fill="none" stroke="#000" stroke-width="0.7" transform="rotate(30 735 1636)"/>
<ellipse cx="756" cy="1630" rx="2.2" ry="1.7" fill="none" stroke="#000" stroke-width="0.7" transform="rotate(30 756 1630)"/>
<ellipse cx="755" cy="1648" rx="2.2" ry="1.7" fill="none" stroke="#000" stroke-width="0.7" transform="rotate(30 755 1648)"/>
<path d="M532,1503 Q540,1498 552,1507 L556,1512 Q548,1515 540,1508 Z" fill="#fdfefc" stroke="#000" stroke-width="1.6" stroke-linejoin="round" stroke-linecap="round" />
<polygon points="580.0,1512.0 589.0,1508.0 596.0,1512.0 587.0,1517.0" fill="none" stroke="#000" stroke-width="1.3" stroke-linejoin="round" stroke-linecap="round" />
<ellipse cx="568" cy="1541" rx="5" ry="2.8" fill="none" stroke="#000" stroke-width="0.8" transform="rotate(35 568 1541)"/>
<ellipse cx="622" cy="1549" rx="3.5" ry="2.5" fill="none" stroke="#000" stroke-width="0.8" transform="rotate(35 622 1549)"/>
<path d="M543,1533 L546,1530 Q550,1530 549,1536" fill="none" stroke="#000" stroke-width="1.3" stroke-linejoin="round" stroke-linecap="round" />
<text x="290" y="1478.9" font-size="22" text-anchor="middle">43</text>
<polygon points="319.7,1406.8 293.9,1446.3 296.1,1447.7 320.3,1407.2" fill="#000"/>
<path d="M275,1207 L288,1200 L892,1548 L888,1587 L875,1595 L863,1588 L862,1583 L843,1578 L793,1547 L790,1543 L793,1538 L730,1502 L710,1500 L663,1473 L670,1465 Q680,1463 678,1455 Q673,1450 668,1462 L657,1467 L358,1297 Q358,1283 347,1280 Q337,1273 320,1275 L275,1248 L290,1240 L290,1215 Z" fill="#fdfefc" stroke="#000" stroke-width="2" stroke-linejoin="round" stroke-linecap="round" />
<line x1="290" y1="1215" x2="880" y2="1557" stroke="#000" stroke-width="0.8" stroke-linecap="round" />
<line x1="290" y1="1240" x2="862" y2="1572" stroke="#000" stroke-width="0.8" stroke-linecap="round" />
<path d="M296,1210 L395,1268 L398,1263 L410,1262 L412,1270 L430,1280 L432,1275 L445,1283 L443,1288 L880,1543" fill="none" stroke="#000" stroke-width="0.7" stroke-linejoin="round" stroke-linecap="round" />
<line x1="880" y1="1557" x2="876" y2="1593" stroke="#000" stroke-width="0.8" stroke-linecap="round" />
<ellipse cx="488" cy="1342" rx="5" ry="7" fill="none" stroke="#000" stroke-width="1.8" transform="rotate(-25 488 1342)"/>
<rect x="431" y="1311" width="4" height="5" fill="#000"/>
<polygon points="693.0,1443.0 703.0,1439.0 711.0,1447.0 700.0,1450.0" fill="none" stroke="#000" stroke-width="0.8" stroke-linejoin="round" stroke-linecap="round" />
<ellipse cx="287" cy="1207" rx="2.2" ry="1.7" fill="none" stroke="#000" stroke-width="0.7" transform="rotate(30 287 1207)"/>
<ellipse cx="297" cy="1233" rx="2.2" ry="1.7" fill="none" stroke="#000" stroke-width="0.7" transform="rotate(30 297 1233)"/>
<ellipse cx="317" cy="1225" rx="2.2" ry="1.7" fill="none" stroke="#000" stroke-width="0.7" transform="rotate(30 317 1225)"/>
<ellipse cx="334" cy="1256" rx="2.2" ry="1.7" fill="none" stroke="#000" stroke-width="0.7" transform="rotate(30 334 1256)"/>
<ellipse cx="347" cy="1250" rx="2.2" ry="1.7" fill="none" stroke="#000" stroke-width="0.7" transform="rotate(30 347 1250)"/>
<ellipse cx="355" cy="1268" rx="2.2" ry="1.7" fill="none" stroke="#000" stroke-width="0.7" transform="rotate(30 355 1268)"/>
<ellipse cx="375" cy="1277" rx="2.2" ry="1.7" fill="none" stroke="#000" stroke-width="0.7" transform="rotate(30 375 1277)"/>
<ellipse cx="378" cy="1258" rx="2.2" ry="1.7" fill="none" stroke="#000" stroke-width="0.7" transform="rotate(30 378 1258)"/>
<ellipse cx="395" cy="1262" rx="2.2" ry="1.7" fill="none" stroke="#000" stroke-width="0.7" transform="rotate(30 395 1262)"/>
<ellipse cx="413" cy="1277" rx="2.2" ry="1.7" fill="none" stroke="#000" stroke-width="0.7" transform="rotate(30 413 1277)"/>
<ellipse cx="399" cy="1313" rx="2.2" ry="1.7" fill="none" stroke="#000" stroke-width="0.7" transform="rotate(30 399 1313)"/>
<ellipse cx="504" cy="1337" rx="2.2" ry="1.7" fill="none" stroke="#000" stroke-width="0.7" transform="rotate(30 504 1337)"/>
<ellipse cx="590" cy="1418" rx="2.2" ry="1.7" fill="none" stroke="#000" stroke-width="0.7" transform="rotate(30 590 1418)"/>
<ellipse cx="633" cy="1408" rx="2.2" ry="1.7" fill="none" stroke="#000" stroke-width="0.7" transform="rotate(30 633 1408)"/>
<ellipse cx="645" cy="1415" rx="2.2" ry="1.7" fill="none" stroke="#000" stroke-width="0.7" transform="rotate(30 645 1415)"/>
<ellipse cx="643" cy="1453" rx="2.2" ry="1.7" fill="none" stroke="#000" stroke-width="0.7" transform="rotate(30 643 1453)"/>
<ellipse cx="683" cy="1437" rx="2.2" ry="1.7" fill="none" stroke="#000" stroke-width="0.7" transform="rotate(30 683 1437)"/>
<ellipse cx="690" cy="1448" rx="2.2" ry="1.7" fill="none" stroke="#000" stroke-width="0.7" transform="rotate(30 690 1448)"/>
<ellipse cx="683" cy="1477" rx="2.2" ry="1.7" fill="none" stroke="#000" stroke-width="0.7" transform="rotate(30 683 1477)"/>
<ellipse cx="730" cy="1463" rx="2.2" ry="1.7" fill="none" stroke="#000" stroke-width="0.7" transform="rotate(30 730 1463)"/>
<ellipse cx="763" cy="1483" rx="2.2" ry="1.7" fill="none" stroke="#000" stroke-width="0.7" transform="rotate(30 763 1483)"/>
<ellipse cx="833" cy="1535" rx="2.2" ry="1.7" fill="none" stroke="#000" stroke-width="0.7" transform="rotate(30 833 1535)"/>
<ellipse cx="873" cy="1548" rx="2.2" ry="1.7" fill="none" stroke="#000" stroke-width="0.7" transform="rotate(30 873 1548)"/>
<ellipse cx="863" cy="1563" rx="2.2" ry="1.7" fill="none" stroke="#000" stroke-width="0.7" transform="rotate(30 863 1563)"/>
<ellipse cx="883" cy="1573" rx="2.2" ry="1.7" fill="none" stroke="#000" stroke-width="0.7" transform="rotate(30 883 1573)"/>
<ellipse cx="651" cy="1440" rx="2.2" ry="1.7" fill="none" stroke="#000" stroke-width="0.7" transform="rotate(30 651 1440)"/>
<ellipse cx="700" cy="1467" rx="6" ry="3" fill="none" stroke="#000" stroke-width="0.8" transform="rotate(35 700 1467)"/>
<line x1="289" y1="1217" x2="289" y2="1226" stroke="#000" stroke-width="1.5" stroke-linecap="round" />
<text x="571" y="1306.9" font-size="22" text-anchor="middle">44</text>
<polygon points="547.3,1350.2 568.2,1312.6 565.8,1311.4 546.7,1349.8" fill="#000"/>
<line x1="620" y1="913" x2="620" y2="1528" stroke="#000" stroke-width="1.8" stroke-linecap="round" stroke-dasharray="95 8 10 8"/>
<path d="M419.4,1074.4 Q419,1070 421.8,1067.9 L445.3,1053.3 L446.1,1044.5 L488.1,1019.4 Q491,1017.5 493.8,1018.6 L497,1021.8 L516.4,1012.1 Q523,1010.5 529.3,1012.1 L541.4,1018.6 L542.3,1022.6 L535.8,1026.7 Q534,1035 537.4,1042 Q540,1049 545.5,1053.3 Q551,1058 558.4,1059.8 L568.1,1055 L571.4,1043.6 L577.8,1040.4 Q585,1042 589.1,1046.9 Q593,1051 592.4,1055 L582.7,1064.7 L581,1071.1 L579.4,1150.3 L490.5,1203.7 L433.9,1169.7 L430.7,1087.3 L421,1080.8 Q419,1078 419.4,1074.4 Z" fill="url(#dark)" stroke="#000" stroke-width="2" stroke-linejoin="round" stroke-linecap="round" />
<path d="M432.3,1071.1 L495.4,1030.7 L516.4,1021 L518,1084 L526.1,1079.2 L527.5,1022 M526.1,1079.2 L571.4,1061.4 L583,1058" fill="none" stroke="#c8c8c8" stroke-width="0.9" stroke-linejoin="round" stroke-linecap="round" />
<path d="M423,1073 L432.3,1071.1 L437.2,1080.8 Q440,1090 445.3,1097 Q455,1108 467.9,1116.4 L476,1113.2 L472.7,1103.5 Q481,1106 490.5,1105 Q504,1102 516.4,1095.4 L518,1084" fill="none" stroke="#c8c8c8" stroke-width="0.9" stroke-linejoin="round" stroke-linecap="round" />
<path d="M484,1113.2 L487.3,1202 M497,1113.2 L495.4,1200.4 M476,1113.2 L497,1113.2 L579,1073" fill="none" stroke="#c8c8c8" stroke-width="0.8" stroke-linejoin="round" stroke-linecap="round" />
<path d="M446.1,1044.5 Q452,1048 450,1056 L432.3,1071.1 M571.4,1043.6 Q580,1048 578,1056 L568,1062" fill="none" stroke="#c8c8c8" stroke-width="0.8" stroke-linejoin="round" stroke-linecap="round" />
<text x="547" y="1252.9" font-size="22" text-anchor="middle">45</text>
<polygon points="526.7,1182.1 540.8,1227.4 543.2,1226.6 527.3,1181.9" fill="#000"/>
<line x1="1012.9" y1="908.6" x2="1037.7" y2="894.7" stroke="#000" stroke-width="1.6" stroke-linecap="round" />
<path d="M684,960 L684,1373 Q684,1400 700,1410 L747,1432" fill="none" stroke="#000" stroke-width="1.6" stroke-linejoin="round" stroke-linecap="round" stroke-dasharray="50 8 230 8 10 8 400"/>
<path d="M747,1432 L910,1515 Q916,1510 915,1490 L914,1476" fill="none" stroke="#000" stroke-width="1.6" stroke-linejoin="round" stroke-linecap="round" stroke-dasharray="14 8 10 8 60 8 10 8 300"/>
<path d="M745.0,1635.0C750.8,1640.3 768.0,1658.3 780.0,1667.0C792.0,1675.7 805.3,1682.3 817.0,1687.0C828.7,1691.7 840.0,1694.8 850.0,1695.0C860.0,1695.2 869.8,1693.3 877.0,1688.0C884.2,1682.7 889.7,1672.0 893.0,1663.0C896.3,1654.0 896.2,1645.0 897.0,1634.0C897.8,1623.0 896.7,1611.0 898.0,1597.0C899.3,1583.0 901.8,1560.7 905.0,1550.0C908.2,1539.3 910.7,1537.2 917.0,1533.0C923.3,1528.8 938.7,1526.3 943.0,1525.0" fill="none" stroke="#000" stroke-width="1.6" stroke-linejoin="round" stroke-linecap="round" stroke-dasharray="40 7 10 7 120 7 10 7 300"/>
<line x1="733" y1="1642" x2="770" y2="1622" stroke="#000" stroke-width="1" stroke-linecap="round" />
<path d="M925.0,784.0C927.3,788.3 933.2,803.5 939.0,810.0C944.8,816.5 953.5,819.8 960.0,823.0C966.5,826.2 975.0,828.0 978.0,829.0" fill="none" stroke="#000" stroke-width="1.6" stroke-linejoin="round" stroke-linecap="round" stroke-dasharray="12 6 8 6 100"/>
<polygon points="814.4,953.7 842.5,937.5 862.5,940.0 863.7,943.7 835.0,960.0 815.0,956.0" fill="url(#mat)" stroke="#000" stroke-width="1" stroke-linejoin="round" stroke-linecap="round" />
<ellipse cx="839" cy="948.5" rx="12" ry="4.2" fill="#fdfefc" stroke="#000" stroke-width="0.9" transform="rotate(-27 839 948.5)"/>
<ellipse cx="839" cy="948.5" rx="8" ry="2.4" fill="url(#mat)" stroke="#000" stroke-width="0.8" transform="rotate(-27 839 948.5)"/>
<line x1="848.7" y1="915" x2="860" y2="983" stroke="#000" stroke-width="0.8" stroke-linecap="round" />
<path d="M838.7,898.5 Q842.7,901.2 846.7,898.2" fill="none" stroke="#000" stroke-width="0.9" stroke-linejoin="round" stroke-linecap="round" />
<path d="M840.1,902.1 Q844.1,904.8 848.1,901.8" fill="none" stroke="#000" stroke-width="0.9" stroke-linejoin="round" stroke-linecap="round" />
<path d="M841.5,905.7 Q845.5,908.4 849.5,905.4" fill="none" stroke="#000" stroke-width="0.9" stroke-linejoin="round" stroke-linecap="round" />
<path d="M842.9,909.3 Q846.9,912.0 850.9,909.0" fill="none" stroke="#000" stroke-width="0.9" stroke-linejoin="round" stroke-linecap="round" />
<path d="M844.3,912.9 Q848.3,915.6 852.3,912.6" fill="none" stroke="#000" stroke-width="0.9" stroke-linejoin="round" stroke-linecap="round" />
<ellipse cx="843.5" cy="891.2" rx="9" ry="6.5" fill="#fdfefc" stroke="#000" stroke-width="1.1"/>
<ellipse cx="843.5" cy="890" rx="7.3" ry="5" fill="none" stroke="#000" stroke-width="0.7"/>
<path d="M838,893 L840,887 L848,888" fill="none" stroke="#000" stroke-width="1.2" stroke-linejoin="round" stroke-linecap="round" />
<path d="M748.2,1033.5 Q749,1029 751.8,1026.4 L761.2,1019.3 L881,948.8 Q886,947 890.5,947.6 L944.6,957 L1048,1024 L1049.2,1039.3 L1026.9,1031 Q1019,1023 1010.4,1017 Q999,1011 986.9,1008.8 Q975,1007 963.4,1008.8 Q953,1012 946.9,1017 Q942,1022 941,1028.8 Q941,1037 944.6,1042.9 Q949,1050 956.3,1054.6 L969.2,1061.7 L968,1066.4 L895.2,1115.7 Q892,1120 890.5,1125 L888.1,1132.2 L874,1122.8 L829.3,1089.9 L801.1,1064 L751.8,1050 Q748,1047 748.2,1042.9 Z" fill="url(#dark)" stroke="#000" stroke-width="2" stroke-linejoin="round" stroke-linecap="round" />
<path d="M761.2,1020.5 L810.5,1033.5 Q821,1039 829.3,1047.6 L899.9,1106.3" fill="none" stroke="#fdfefc" stroke-width="3.4" stroke-linejoin="round" stroke-linecap="round" />
<path d="M750.6,1039.3 L801.1,1052.3 Q813,1059 822.3,1068.7 L890.5,1120.5" fill="none" stroke="#fdfefc" stroke-width="3.4" stroke-linejoin="round" stroke-linecap="round" />
<path d="M815.2,1033.5 L942.2,959.4" fill="none" stroke="#fdfefc" stroke-width="3.2" stroke-linejoin="round" stroke-linecap="round" />
<path d="M1025.7,1029.9 Q1019,1022 1010.4,1015.8 Q999,1010 986.9,1007.6 Q975,1005.5 963.4,1007.6 Q953,1010.5 946.9,1015.8 Q941,1021 940.3,1028.8 Q940,1035 942.2,1040.5" fill="none" stroke="#fdfefc" stroke-width="2.4" stroke-linejoin="round" stroke-linecap="round" />
<path d="M1029.2,1028.8 L1045.7,1025.2 L1047,1036" fill="none" stroke="#c8c8c8" stroke-width="1" stroke-linejoin="round" stroke-linecap="round" />
<path d="M869.3,1012.3 L904.6,993.5 Q909,992 914,994.7 L937.5,1010 L937.5,1013 L897.5,1035.8 Q894,1037 890.5,1034.6 L870.5,1017 Z" fill="none" stroke="#fdfefc" stroke-width="2.2" stroke-linejoin="round" stroke-linecap="round" />
<path d="M876.4,1013.5 L907,998.2 L918.7,1007.6 L890.5,1024 Z" fill="none" stroke="#c8c8c8" stroke-width="1" stroke-linejoin="round" stroke-linecap="round" />
<path d="M890.5,1026.4 L921,1010 L932.8,1012.3 L900,1031 Z" fill="none" stroke="#c8c8c8" stroke-width="1" stroke-linejoin="round" stroke-linecap="round" />
<polygon points="834.0,993.5 852.9,984.0 864.6,986.4 845.8,997.0" fill="#fdfefc" stroke="#000" stroke-width="1.2" stroke-linejoin="round" stroke-linecap="round" />
<polygon points="831.0,993.5 852.5,982.0 868.0,986.0 846.0,999.5" fill="none" stroke="#c8c8c8" stroke-width="0.8" stroke-linejoin="round" stroke-linecap="round" />
<path d="M877.5,957 L921,966.4 L920,969.5 L876.5,960 Z" fill="none" stroke="#c8c8c8" stroke-width="0.9" stroke-linejoin="round" stroke-linecap="round" />
<path d="M844.5,1023 L844.5,1031 Q850.5,1036 856.5,1031 L856.5,1023" fill="#fdfefc" stroke="#000" stroke-width="1" stroke-linejoin="round" stroke-linecap="round" />
<ellipse cx="850.5" cy="1023" rx="6" ry="3.3" fill="#fdfefc" stroke="#000" stroke-width="1"/>
<ellipse cx="791.7" cy="1010" rx="2.5" ry="2" fill="none" stroke="#c8c8c8" stroke-width="0.8"/>
<ellipse cx="759" cy="1046" rx="2" ry="2" fill="none" stroke="#c8c8c8" stroke-width="0.8"/>
<ellipse cx="879" cy="1123" rx="2" ry="2" fill="none" stroke="#c8c8c8" stroke-width="0.8"/>
<ellipse cx="1040" cy="1029" rx="2" ry="2" fill="none" stroke="#c8c8c8" stroke-width="0.8"/>
<text x="755" y="949.9" font-size="22" text-anchor="middle">34</text>
<polygon points="785.3,996.8 761.1,957.3 758.9,958.7 784.7,997.2" fill="#000"/>
<line x1="732" y1="1065" x2="753" y2="1052" stroke="#000" stroke-width="1.8" stroke-linecap="round" />
<g transform="translate(712,1073) rotate(-20.9)" stroke="#000" stroke-width="1.0" fill="#fdfefc" stroke-linejoin="round">
<rect x="3.5" y="-2.8" width="19.0" height="5.6" stroke="none"/>
<line x1="5.4" y1="-4.1" x2="7.2" y2="4.1"/>
<line x1="8.4" y1="-4.1" x2="10.2" y2="4.1"/>
<line x1="11.4" y1="-4.1" x2="13.2" y2="4.1"/>
<line x1="14.4" y1="-4.1" x2="16.2" y2="4.1"/>
<line x1="17.4" y1="-4.1" x2="19.2" y2="4.1"/>
<line x1="20.4" y1="-4.1" x2="22.2" y2="4.1"/>
<line x1="23.4" y1="-4.1" x2="25.2" y2="4.1"/>
<ellipse cx="0" cy="0" rx="5.6" ry="8.0"/>
<path d="M-2.1,-4.2 Q2.1,0 -2.1,4.2" fill="none"/>
</g>
<text x="703" y="1015.9" font-size="22" text-anchor="middle">31</text>
<polygon points="718.3,1064.9 708.3,1022.7 705.7,1023.3 717.7,1065.1" fill="#000"/>
<line x1="765" y1="1057" x2="747" y2="1247" stroke="#000" stroke-width="1.5" stroke-linecap="round" stroke-dasharray="45 6 8 6 200"/>
<polygon points="697.2,1250.3 774.5,1204.5 776.0,1210.2 761.6,1220.2 763.1,1283.3 728.7,1304.8 728.7,1300.5 705.8,1313.4" fill="url(#dark)" stroke="#000" stroke-width="1.2" stroke-linejoin="round" stroke-linecap="round" />
<path d="M747.3,1247.4 L760.2,1238.9" fill="none" stroke="#fdfefc" stroke-width="1.6" stroke-linejoin="round" stroke-linecap="round" />
<path d="M751.6,1207.3 L747.3,1247.4" fill="none" stroke="#fdfefc" stroke-width="1.4" stroke-linejoin="round" stroke-linecap="round" />
<text x="639" y="1252.9" font-size="22" text-anchor="middle">36</text>
<polygon points="692.1,1256.7 657.2,1248.0 656.8,1250.0 691.9,1257.3" fill="#000"/>
<line x1="737" y1="1187" x2="768" y2="1205" stroke="#000" stroke-width="0.8" stroke-linecap="round" />
<g transform="translate(715,1177) rotate(24.6)" stroke="#000" stroke-width="1.0" fill="#fdfefc" stroke-linejoin="round">
<rect x="3.5" y="-2.8" width="22.9" height="5.6" stroke="none"/>
<line x1="5.4" y1="-4.1" x2="7.2" y2="4.1"/>
<line x1="8.4" y1="-4.1" x2="10.2" y2="4.1"/>
<line x1="11.4" y1="-4.1" x2="13.2" y2="4.1"/>
<line x1="14.4" y1="-4.1" x2="16.2" y2="4.1"/>
<line x1="17.4" y1="-4.1" x2="19.2" y2="4.1"/>
<line x1="20.4" y1="-4.1" x2="22.2" y2="4.1"/>
<line x1="23.4" y1="-4.1" x2="25.2" y2="4.1"/>
<line x1="26.4" y1="-4.1" x2="28.2" y2="4.1"/>
<ellipse cx="0" cy="0" rx="5.6" ry="8.0"/>
<path d="M-2.1,-4.2 Q2.1,0 -2.1,4.2" fill="none"/>
</g>
<text x="802" y="1160.9" font-size="22" text-anchor="middle">35</text>
<polygon points="733.1,1167.3 778.3,1157.1 777.7,1154.9 732.9,1166.7" fill="#000"/>
<path d="M760.2,1237.4 L767.4,1226 L887.7,1155.8 L890.6,1160 L904.9,1157.2 L904.9,1151.5 L956.5,1158.6 L1005.2,1188.7 L1056.8,1223 L1062.5,1260.3 L1065.4,1312 L1051,1329 L1049.6,1406.5 L1028,1422 L976.5,1389.3 L919.2,1357.8 L896.3,1366.4 L890.6,1412.2 L904.9,1415 L904.9,1463 L929.3,1476.7 L907.8,1489.6 L900.6,1485.3 L788.9,1422.2 L773.1,1340.6 Z" fill="url(#dark)" stroke="#000" stroke-width="2" stroke-linejoin="round" stroke-linecap="round" />
<polygon points="844.7,1271.8 876.2,1257.5 890.6,1309.0" fill="#fdfefc" stroke="#000" stroke-width="1.2" stroke-linejoin="round" stroke-linecap="round" />
<polygon points="839.0,1270.4 879.1,1247.4 884.0,1252.0 896.3,1312.0 890.0,1315.0" fill="none" stroke="#c8c8c8" stroke-width="0.9" stroke-linejoin="round" stroke-linecap="round" />
<polygon points="841.5,1271.0 877.5,1252.0 893.0,1311.0" fill="none" stroke="#c8c8c8" stroke-width="0.8" stroke-linejoin="round" stroke-linecap="round" />
<path d="M919.2,1344.9 L930.7,1340.6 L936,1343.5 L925,1349 Z" fill="#fdfefc" stroke="#000" stroke-width="0.6" stroke-linejoin="round" stroke-linecap="round" />
<line x1="985.1" y1="1194" x2="998" y2="1245" stroke="#fdfefc" stroke-width="2.8" stroke-linecap="round" />
<path d="M767,1230 Q800,1235 812,1245 L840,1275 L893,1330 L898,1365" fill="none" stroke="#c8c8c8" stroke-width="0.9" stroke-linejoin="round" stroke-linecap="round" />
<path d="M771,1236 Q800,1245 810,1255 Q835,1290 838,1330 Q842,1380 893,1400" fill="none" stroke="#c8c8c8" stroke-width="0.8" stroke-linejoin="round" stroke-linecap="round" />
<path d="M840,1275 L838,1330 L850,1385 L893,1405" fill="none" stroke="#c8c8c8" stroke-width="0.8" stroke-linejoin="round" stroke-linecap="round" />
<path d="M890,1160 L905,1290 L935,1340 L1050,1405" fill="none" stroke="#c8c8c8" stroke-width="0.9" stroke-linejoin="round" stroke-linecap="round" />
<path d="M903,1157 L925,1290 L945,1335" fill="none" stroke="#c8c8c8" stroke-width="0.8" stroke-linejoin="round" stroke-linecap="round" />
<path d="M915,1158 L938,1265 Q945,1280 965,1285 L1020,1300 L1050,1330" fill="none" stroke="#c8c8c8" stroke-width="0.8" stroke-linejoin="round" stroke-linecap="round" />
<path d="M957,1158 L1003,1195 L1020,1300" fill="none" stroke="#c8c8c8" stroke-width="0.8" stroke-linejoin="round" stroke-linecap="round" />
<path d="M1003,1195 L1055,1228" fill="none" stroke="#c8c8c8" stroke-width="0.8" stroke-linejoin="round" stroke-linecap="round" />
<path d="M923,1360 L1030,1420 M935,1345 L1048,1410" fill="none" stroke="#c8c8c8" stroke-width="0.7" stroke-linejoin="round" stroke-linecap="round" />
<path d="M904.9,1415 L904.9,1463 M904.9,1463 L900.6,1485.3" fill="none" stroke="#c8c8c8" stroke-width="0.9" stroke-linejoin="round" stroke-linecap="round" />
<path d="M767.4,1229.5 L887,1159.5" fill="none" stroke="#c8c8c8" stroke-width="0.8" stroke-linejoin="round" stroke-linecap="round" />
<ellipse cx="855" cy="1355" rx="3.5" ry="4.5" fill="none" stroke="#c8c8c8" stroke-width="0.8"/>
<ellipse cx="815" cy="1370" rx="3.5" ry="4.5" fill="none" stroke="#c8c8c8" stroke-width="0.8"/>
<ellipse cx="887" cy="1378" rx="3.5" ry="4.5" fill="none" stroke="#c8c8c8" stroke-width="0.8"/>
<ellipse cx="1020" cy="1257" rx="3.5" ry="4.5" fill="none" stroke="#c8c8c8" stroke-width="0.8"/>
<ellipse cx="1053" cy="1280" rx="3.5" ry="4.5" fill="none" stroke="#c8c8c8" stroke-width="0.8"/>
<text x="1028" y="1135.9" font-size="22" text-anchor="middle">37</text>
<polygon points="1005.3,1192.1 1023.2,1147.5 1020.8,1146.5 1004.7,1191.9" fill="#000"/>
<g stroke="#000" stroke-width="1.0" fill="#fdfefc" stroke-linejoin="round">
<rect x="911.8" y="1425.8" width="6.5" height="21.2"/>
<line x1="910.5" y1="1425.0" x2="919.5" y2="1426.5"/>
<line x1="910.5" y1="1428.5" x2="919.5" y2="1430.0"/>
<line x1="910.5" y1="1432.0" x2="919.5" y2="1433.5"/>
<line x1="910.5" y1="1435.5" x2="919.5" y2="1437.0"/>
<line x1="910.5" y1="1439.0" x2="919.5" y2="1440.5"/>
<line x1="910.5" y1="1442.5" x2="919.5" y2="1444.0"/>
<line x1="910.5" y1="1446.0" x2="919.5" y2="1447.5"/>
<polygon points="911.4,1416.0 918.6,1416.0 921.5,1418.6 921.5,1423.8 918.2,1426.4 911.8,1426.4 908.5,1423.8 908.5,1418.6"/>
<polyline fill="none" points="908.5,1418.6 911.8,1421.2 918.2,1421.2 921.5,1418.6"/>
</g>
<line x1="915" y1="1447" x2="915" y2="1477" stroke="#000" stroke-width="1.6" stroke-linecap="round" />
<text x="988" y="1457.9" font-size="22" text-anchor="middle">16</text>
<polygon points="924.9,1430.3 967.7,1443.1 968.3,1440.9 925.1,1429.7" fill="#000"/>
<path d="M1208,902.7 Q1190,906 1182,915 Q1177,922 1178.6,929 Q1181,940 1186.5,945 L1196.4,958 Z" fill="#fdfefc" stroke="#000" stroke-width="1.2" stroke-linejoin="round" stroke-linecap="round" />
<path d="M1180,922 Q1185,912 1196,910 L1196,950 Q1184,940 1180,922 Z" fill="url(#shade)" stroke="none" stroke-width="1.5" stroke-linejoin="round" stroke-linecap="round" />
<polygon points="1216.0,892.7 1218.5,894.7 1220.5,935.4 1198.4,969.5 1196.0,967.0 1195.2,929.4" fill="#fdfefc" stroke="#000" stroke-width="1.6" stroke-linejoin="round" stroke-linecap="round" />
<polygon points="1214.5,900.5 1216.5,933.4 1199.8,960.0 1198.6,929.8" fill="#fdfefc" stroke="#000" stroke-width="0.9" stroke-linejoin="round" stroke-linecap="round" />
<path d="M1200,930 L1214,906 L1215.5,932 L1204,950 Z" fill="url(#shade)" stroke="none" stroke-width="1.5" stroke-linejoin="round" stroke-linecap="round" />
<path d="M1224,925.5 L1230,923.5 L1240,904.6 L1237,900.7 L1246,895.7 L1251,894.7 Q1254,896 1254,902 L1255,945.3 Q1250,962 1236,979 L1230,979 L1226,973 Z" fill="#fdfefc" stroke="#000" stroke-width="1.6" stroke-linejoin="round" stroke-linecap="round" />
<clipPath id="c27"><path d="M1226,927 L1232,925 L1242,906 L1251,898 L1253,945 Q1249,960 1235,977 L1229,975 Z"/></clipPath><g clip-path="url(#c27)">
<line x1="1222.0" y1="985.0" x2="1220.0" y2="925.0" stroke="#000" stroke-width="0.6" stroke-linecap="round" />
<line x1="1226.2" y1="980.6" x2="1224.3" y2="920.6" stroke="#000" stroke-width="0.6" stroke-linecap="round" />
<line x1="1230.4" y1="976.2" x2="1228.6" y2="916.2" stroke="#000" stroke-width="0.6" stroke-linecap="round" />
<line x1="1234.6" y1="971.8" x2="1232.9" y2="911.8" stroke="#000" stroke-width="0.6" stroke-linecap="round" />
<line x1="1238.8" y1="967.4" x2="1237.2" y2="907.4" stroke="#000" stroke-width="0.6" stroke-linecap="round" />
<line x1="1243.0" y1="963.0" x2="1241.5" y2="903.0" stroke="#000" stroke-width="0.6" stroke-linecap="round" />
<line x1="1247.2" y1="958.6" x2="1245.8" y2="898.6" stroke="#000" stroke-width="0.6" stroke-linecap="round" />
<line x1="1251.4" y1="954.2" x2="1250.1" y2="894.2" stroke="#000" stroke-width="0.6" stroke-linecap="round" />
<line x1="1255.6" y1="949.8" x2="1254.4" y2="889.8" stroke="#000" stroke-width="0.6" stroke-linecap="round" />
<line x1="1222" y1="920.0" x2="1258" y2="884.0" stroke="#000" stroke-width="0.6" stroke-linecap="round" />
<line x1="1222" y1="926.5" x2="1258" y2="890.3" stroke="#000" stroke-width="0.6" stroke-linecap="round" />
<line x1="1222" y1="933.0" x2="1258" y2="896.6" stroke="#000" stroke-width="0.6" stroke-linecap="round" />
<line x1="1222" y1="939.5" x2="1258" y2="902.9" stroke="#000" stroke-width="0.6" stroke-linecap="round" />
<line x1="1222" y1="946.0" x2="1258" y2="909.2" stroke="#000" stroke-width="0.6" stroke-linecap="round" />
<line x1="1222" y1="952.5" x2="1258" y2="915.5" stroke="#000" stroke-width="0.6" stroke-linecap="round" />
<line x1="1222" y1="959.0" x2="1258" y2="921.8" stroke="#000" stroke-width="0.6" stroke-linecap="round" />
<line x1="1222" y1="965.5" x2="1258" y2="928.1" stroke="#000" stroke-width="0.6" stroke-linecap="round" />
<line x1="1222" y1="972.0" x2="1258" y2="934.4" stroke="#000" stroke-width="0.6" stroke-linecap="round" />
<line x1="1222" y1="978.5" x2="1258" y2="940.7" stroke="#000" stroke-width="0.6" stroke-linecap="round" />
<line x1="1222" y1="985.0" x2="1258" y2="947.0" stroke="#000" stroke-width="0.6" stroke-linecap="round" />
</g>
<path d="M1227,928 L1233,926 L1243,907 L1250,899 L1252,945 Q1248,959 1235,975 L1229,973 Z" fill="none" stroke="#000" stroke-width="0.7" stroke-linejoin="round" stroke-linecap="round" />
<path d="M1083.3,968 L1144.8,955.2 L1147.8,958.2 L1149,983 L1125,995 L1087.3,1010.8 Z" fill="#fdfefc" stroke="#000" stroke-width="1.5" stroke-linejoin="round" stroke-linecap="round" />
<path d="M1092,976 Q1092,973 1095,972.5 L1137,963.5 Q1142,963 1143,967 L1144,985 L1100,1003 Q1095,1004 1094.5,999 Z" fill="#fdfefc" stroke="#000" stroke-width="0.7" stroke-linejoin="round" stroke-linecap="round" />
<path d="M1110,975 L1128,968 L1135,985 L1112,992 Z" fill="url(#shade)" stroke="none" stroke-width="1.5" stroke-linejoin="round" stroke-linecap="round" />
<path d="M1096,976 Q1099,969 1108,969.5 Q1108,980 1098,983 Q1095,981 1096,976 Z" fill="#fdfefc" stroke="#000" stroke-width="1.6" stroke-linejoin="round" stroke-linecap="round" />
<path d="M1117,990 L1123,987 L1158.7,980 L1159.5,978 L1165.7,977 L1166.5,979 L1182.5,979 Q1187,982 1187.5,987 L1189.5,1018.7 Q1189,1023 1186.5,1024.7 L1125,1039.6 Q1121,1039 1120,1034.6 Z" fill="#fdfefc" stroke="#000" stroke-width="1.6" stroke-linejoin="round" stroke-linecap="round" />
<clipPath id="c29"><path d="M1119,992 L1124,989 L1182,981 Q1185.5,983 1186,987 L1187.8,1018 Q1187,1022 1185.5,1023 L1125.5,1037.8 Q1122.5,1037 1121.8,1034 Z"/></clipPath><g clip-path="url(#c29)">
<line x1="1112.0" y1="993.0" x2="1117.0" y2="1042.0" stroke="#000" stroke-width="0.6" stroke-linecap="round" />
<line x1="1120.6" y1="991.3" x2="1125.4" y2="1039.8" stroke="#000" stroke-width="0.6" stroke-linecap="round" />
<line x1="1129.2" y1="989.6" x2="1133.8" y2="1037.6" stroke="#000" stroke-width="0.6" stroke-linecap="round" />
<line x1="1137.8" y1="987.9" x2="1142.2" y2="1035.4" stroke="#000" stroke-width="0.6" stroke-linecap="round" />
<line x1="1146.4" y1="986.2" x2="1150.6" y2="1033.2" stroke="#000" stroke-width="0.6" stroke-linecap="round" />
<line x1="1155.0" y1="984.5" x2="1159.0" y2="1031.0" stroke="#000" stroke-width="0.6" stroke-linecap="round" />
<line x1="1163.6" y1="982.8" x2="1167.4" y2="1028.8" stroke="#000" stroke-width="0.6" stroke-linecap="round" />
<line x1="1172.2" y1="981.1" x2="1175.8" y2="1026.6" stroke="#000" stroke-width="0.6" stroke-linecap="round" />
<line x1="1180.8" y1="979.4" x2="1184.2" y2="1024.4" stroke="#000" stroke-width="0.6" stroke-linecap="round" />
<line x1="1189.4" y1="977.7" x2="1192.6" y2="1022.2" stroke="#000" stroke-width="0.6" stroke-linecap="round" />
<line x1="1114" y1="986" x2="1192" y2="973.0" stroke="#000" stroke-width="0.6" stroke-linecap="round" />
<line x1="1114" y1="994" x2="1192" y2="979.6" stroke="#000" stroke-width="0.6" stroke-linecap="round" />
<line x1="1114" y1="1002" x2="1192" y2="986.2" stroke="#000" stroke-width="0.6" stroke-linecap="round" />
<line x1="1114" y1="1010" x2="1192" y2="992.8" stroke="#000" stroke-width="0.6" stroke-linecap="round" />
<line x1="1114" y1="1018" x2="1192" y2="999.4" stroke="#000" stroke-width="0.6" stroke-linecap="round" />
<line x1="1114" y1="1026" x2="1192" y2="1006.0" stroke="#000" stroke-width="0.6" stroke-linecap="round" />
<line x1="1114" y1="1034" x2="1192" y2="1012.6" stroke="#000" stroke-width="0.6" stroke-linecap="round" />
<line x1="1114" y1="1042" x2="1192" y2="1019.2" stroke="#000" stroke-width="0.6" stroke-linecap="round" />
</g>
<path d="M1119,992 L1124,989 L1182,981 Q1185.5,983 1186,987 L1187.8,1018 Q1187,1022 1185.5,1023 L1125.5,1037.8 Q1122.5,1037 1121.8,1034 Z" fill="none" stroke="#000" stroke-width="0.7" stroke-linejoin="round" stroke-linecap="round" />
<text x="1230" y="831.9" font-size="22" text-anchor="middle">27</text>
<polygon points="1244.3,888.9 1234.3,845.7 1231.7,846.3 1243.7,889.1" fill="#000"/>
<text x="1220" y="1039.9" font-size="22" text-anchor="middle">28</text>
<polygon points="1205.7,974.1 1215.7,1014.3 1218.3,1013.7 1206.3,973.9" fill="#000"/>
<text x="1065" y="1088.9" font-size="22" text-anchor="middle">28</text>
<polygon points="1086.7,1015.9 1074.7,1059.7 1077.3,1060.3 1087.3,1016.1" fill="#000"/>
<text x="1184" y="1116.9" font-size="22" text-anchor="middle">29</text>
<polygon points="1170.7,1045.1 1181.7,1089.3 1184.3,1088.7 1171.3,1044.9" fill="#000"/>
<path d="M943,1511 L978,1531 L1075,1473 L1075,1436 L1110,1452 L1112,1541 L985,1620 L980,1617 L945,1557 Z" fill="#fdfefc" stroke="#000" stroke-width="1.8" stroke-linejoin="round" stroke-linecap="round" />
<path d="M978,1531 L982,1618 M1075,1473 L1108,1455" fill="none" stroke="#000" stroke-width="0.8" stroke-linejoin="round" stroke-linecap="round" />
<ellipse cx="1044" cy="1541" rx="6" ry="10" fill="none" stroke="#000" stroke-width="1.2" transform="rotate(25 1044 1541)"/>
<ellipse cx="1042" cy="1542" rx="4.5" ry="8" fill="none" stroke="#000" stroke-width="1" transform="rotate(25 1042 1542)"/>
<ellipse cx="948" cy="1540" rx="2" ry="2.4" fill="none" stroke="#000" stroke-width="0.7"/>
<ellipse cx="970" cy="1533" rx="2" ry="2.4" fill="none" stroke="#000" stroke-width="0.7"/>
<ellipse cx="970" cy="1552" rx="2" ry="2.4" fill="none" stroke="#000" stroke-width="0.7"/>
<ellipse cx="1003" cy="1520" rx="2" ry="2.4" fill="none" stroke="#000" stroke-width="0.7"/>
<ellipse cx="1045" cy="1500" rx="2" ry="2.4" fill="none" stroke="#000" stroke-width="0.7"/>
<ellipse cx="1080" cy="1467" rx="2" ry="2.4" fill="none" stroke="#000" stroke-width="0.7"/>
<ellipse cx="1103" cy="1458" rx="2" ry="2.4" fill="none" stroke="#000" stroke-width="0.7"/>
<ellipse cx="1087" cy="1477" rx="2" ry="2.4" fill="none" stroke="#000" stroke-width="0.7"/>
<ellipse cx="1080" cy="1520" rx="2" ry="2.4" fill="none" stroke="#000" stroke-width="0.7"/>
<ellipse cx="1092" cy="1513" rx="2" ry="2.4" fill="none" stroke="#000" stroke-width="0.7"/>
<ellipse cx="1087" cy="1552" rx="2" ry="2.4" fill="none" stroke="#000" stroke-width="0.7"/>
<ellipse cx="1105" cy="1543" rx="2" ry="2.4" fill="none" stroke="#000" stroke-width="0.7"/>
<ellipse cx="1047" cy="1577" rx="2" ry="2.4" fill="none" stroke="#000" stroke-width="0.7"/>
<ellipse cx="1005" cy="1602" rx="2" ry="2.4" fill="none" stroke="#000" stroke-width="0.7"/>
<ellipse cx="985" cy="1610" rx="2" ry="2.4" fill="none" stroke="#000" stroke-width="0.7"/>
<ellipse cx="996" cy="1570" rx="2" ry="2.4" fill="none" stroke="#000" stroke-width="0.7"/>
<ellipse cx="1010" cy="1562" rx="2" ry="2.4" fill="none" stroke="#000" stroke-width="0.7"/>
<text x="1123" y="1394.9" font-size="22" text-anchor="middle">38</text>
<polygon points="1105.3,1443.1 1118.2,1402.4 1115.8,1401.6 1104.7,1442.9" fill="#000"/>
<g transform="translate(915,1566) rotate(-25.5)" stroke="#000" stroke-width="1.0" fill="#fdfefc" stroke-linejoin="round">
<rect x="3.6" y="-2.7" width="19.7" height="5.4"/>
<line x1="7.2" y1="-3.9" x2="8.8" y2="3.9"/>
<line x1="10.4" y1="-3.9" x2="12.0" y2="3.9"/>
<line x1="13.6" y1="-3.9" x2="15.2" y2="3.9"/>
<line x1="16.8" y1="-3.9" x2="18.4" y2="3.9"/>
<line x1="20.0" y1="-3.9" x2="21.6" y2="3.9"/>
<ellipse cx="0" cy="0" rx="4.5" ry="6.0"/>
<ellipse cx="-2.7" cy="0" rx="4.2" ry="5.7"/>
</g>
<line x1="936" y1="1556" x2="970" y2="1533" stroke="#000" stroke-width="1.8" stroke-linecap="round" />
<text x="935" y="1654.9" font-size="22" text-anchor="middle">16</text>
<polygon points="918.7,1585.1 928.7,1629.3 931.3,1628.7 919.3,1584.9" fill="#000"/>
<line x1="1088" y1="1478" x2="1166" y2="1520" stroke="#000" stroke-width="1.6" stroke-linecap="round" stroke-dasharray="30 7 9 7 100"/>
<path d="M1083,1572 L1178,1517 L1180,1531 L1204,1548 Q1208,1552 1208,1541 L1217,1537 L1228,1544 L1228,1601 L1221,1598 L1210,1600 Q1204,1598 1204,1606 L1108,1664 L1103,1671 L1096,1666 L1096,1607 L1105,1603 Q1103,1596 1098,1600 L1085,1590 Z" fill="#fdfefc" stroke="#000" stroke-width="1.8" stroke-linejoin="round" stroke-linecap="round" />
<path d="M1085,1590 L1180,1531 M1108,1606 L1108,1664 M1105,1603 L1217,1540 L1221,1598" fill="none" stroke="#000" stroke-width="0.8" stroke-linejoin="round" stroke-linecap="round" />
<path d="M1096,1640 L1083,1647 L1083,1657 L1096,1652" fill="#fdfefc" stroke="#000" stroke-width="1.5" stroke-linejoin="round" stroke-linecap="round" />
<ellipse cx="1158" cy="1607" rx="7" ry="11" fill="none" stroke="#000" stroke-width="1.2" transform="rotate(25 1158 1607)"/>
<ellipse cx="1156" cy="1608" rx="5" ry="9" fill="none" stroke="#000" stroke-width="1" transform="rotate(25 1156 1608)"/>
<ellipse cx="1090" cy="1578" rx="2" ry="2.4" fill="none" stroke="#000" stroke-width="0.7"/>
<ellipse cx="1131" cy="1552" rx="2" ry="2.4" fill="none" stroke="#000" stroke-width="0.7"/>
<ellipse cx="1173" cy="1527" rx="2" ry="2.4" fill="none" stroke="#000" stroke-width="0.7"/>
<ellipse cx="1101" cy="1617" rx="2" ry="2.4" fill="none" stroke="#000" stroke-width="0.7"/>
<ellipse cx="1100" cy="1655" rx="2" ry="2.4" fill="none" stroke="#000" stroke-width="0.7"/>
<ellipse cx="1121" cy="1625" rx="2" ry="2.4" fill="none" stroke="#000" stroke-width="0.7"/>
<ellipse cx="1132" cy="1627" rx="2" ry="2.4" fill="none" stroke="#000" stroke-width="0.7"/>
<ellipse cx="1175" cy="1603" rx="2" ry="2.4" fill="none" stroke="#000" stroke-width="0.7"/>
<ellipse cx="1193" cy="1585" rx="2" ry="2.4" fill="none" stroke="#000" stroke-width="0.7"/>
<ellipse cx="1222" cy="1548" rx="2" ry="2.4" fill="none" stroke="#000" stroke-width="0.7"/>
<ellipse cx="1223" cy="1585" rx="2" ry="2.4" fill="none" stroke="#000" stroke-width="0.7"/>
<text x="1224" y="1678.9" font-size="22" text-anchor="middle">40</text>
<polygon points="1185.8,1620.3 1218.1,1650.0 1219.9,1648.0 1186.2,1619.7" fill="#000"/>
<path d="M1250,1522 L1276,1531 L1278,1534 L1286,1535 L1296,1541 Q1305,1546 1303,1556 Q1300,1572 1291,1587 Q1285,1592 1276,1590 L1250,1577 Z" fill="#fdfefc" stroke="#000" stroke-width="1.8" stroke-linejoin="round" stroke-linecap="round" />
<ellipse cx="1296" cy="1549" rx="3" ry="4" fill="none" stroke="#000" stroke-width="1.3"/>
<ellipse cx="1254" cy="1530" rx="1.8" ry="2.2" fill="none" stroke="#000" stroke-width="0.7"/>
<ellipse cx="1254" cy="1566" rx="1.8" ry="2.2" fill="none" stroke="#000" stroke-width="0.7"/>
<line x1="1228" y1="1544" x2="1254" y2="1530" stroke="#000" stroke-width="1.8" stroke-linecap="round" />
<line x1="1228" y1="1581" x2="1254" y2="1566" stroke="#000" stroke-width="1.8" stroke-linecap="round" />
<text x="1259" y="1473.9" font-size="22" text-anchor="middle">39</text>
<polygon points="1274.3,1529.9 1264.3,1483.7 1261.7,1484.3 1273.7,1530.1" fill="#000"/>
<g transform="translate(1230,1523) rotate(-154.5)" stroke="#000" stroke-width="1.0" fill="#fdfefc" stroke-linejoin="round">
<rect x="3.6" y="-2.7" width="19.7" height="5.4"/>
<line x1="7.2" y1="-3.9" x2="8.8" y2="3.9"/>
<line x1="10.4" y1="-3.9" x2="12.0" y2="3.9"/>
<line x1="13.6" y1="-3.9" x2="15.2" y2="3.9"/>
<line x1="16.8" y1="-3.9" x2="18.4" y2="3.9"/>
<line x1="20.0" y1="-3.9" x2="21.6" y2="3.9"/>
<ellipse cx="0" cy="0" rx="4.5" ry="6.0"/>
<ellipse cx="-2.7" cy="0" rx="4.2" ry="5.7"/>
</g>
<path d="M1208,1516 Q1200,1505 1193,1506 L1193,1528 Q1185,1532 1180,1530" fill="none" stroke="#000" stroke-width="0.8" stroke-linejoin="round" stroke-linecap="round" />
<text x="1211" y="1458.9" font-size="22" text-anchor="middle">16</text>
<polygon points="1224.3,1512.9 1211.2,1468.6 1208.8,1469.4 1223.7,1513.1" fill="#000"/>
<path d="M1016,1657 L1048,1666 L1050,1670 L1057,1664 L1060,1671 Q1070,1676 1068,1688 L1064,1703 Q1060,1716 1055,1721 Q1050,1726 1044,1725 L1016,1710 Z" fill="#fdfefc" stroke="#000" stroke-width="1.8" stroke-linejoin="round" stroke-linecap="round" />
<ellipse cx="1061" cy="1682" rx="2.5" ry="3.3" fill="none" stroke="#000" stroke-width="1.3"/>
<ellipse cx="1021" cy="1665" rx="1.8" ry="2.2" fill="none" stroke="#000" stroke-width="0.7"/>
<ellipse cx="1021" cy="1700" rx="1.8" ry="2.2" fill="none" stroke="#000" stroke-width="0.7"/>
<line x1="1000" y1="1677" x2="1096" y2="1618" stroke="#000" stroke-width="1.7" stroke-linecap="round" stroke-dasharray="38 7 9 7 100"/>
<g transform="translate(981,1686) rotate(-26.6)" stroke="#000" stroke-width="1.0" fill="#fdfefc" stroke-linejoin="round">
<rect x="3.6" y="-2.7" width="18.8" height="5.4"/>
<line x1="7.2" y1="-3.9" x2="8.8" y2="3.9"/>
<line x1="10.4" y1="-3.9" x2="12.0" y2="3.9"/>
<line x1="13.6" y1="-3.9" x2="15.2" y2="3.9"/>
<line x1="16.8" y1="-3.9" x2="18.4" y2="3.9"/>
<line x1="20.0" y1="-3.9" x2="21.6" y2="3.9"/>
<ellipse cx="0" cy="0" rx="4.5" ry="6.0"/>
<ellipse cx="-2.7" cy="0" rx="4.2" ry="5.7"/>
</g>
<line x1="998" y1="1721" x2="1061" y2="1682" stroke="#000" stroke-width="1.7" stroke-linecap="round" />
<g transform="translate(972,1730) rotate(-20.3)" stroke="#000" stroke-width="1.0" fill="#fdfefc" stroke-linejoin="round">
<rect x="4.2" y="-3.1" width="24.6" height="6.3"/>
<line x1="8.0" y1="-4.3" x2="9.6" y2="4.3"/>
<line x1="11.2" y1="-4.3" x2="12.8" y2="4.3"/>
<line x1="14.4" y1="-4.3" x2="16.0" y2="4.3"/>
<line x1="17.6" y1="-4.3" x2="19.2" y2="4.3"/>
<line x1="20.8" y1="-4.3" x2="22.4" y2="4.3"/>
<line x1="24.0" y1="-4.3" x2="25.6" y2="4.3"/>
<ellipse cx="0" cy="0" rx="5.2" ry="7.0"/>
<ellipse cx="-3.1" cy="0" rx="4.9" ry="6.6"/>
</g>
<text x="915" y="1679.9" font-size="22" text-anchor="middle">16</text>
<polygon points="972.1,1687.7 934.3,1675.0 933.7,1677.0 971.9,1688.3" fill="#000"/>
<text x="896" y="1728.9" font-size="22" text-anchor="middle">42</text>
<polygon points="962.1,1735.7 917.3,1722.9 916.7,1725.1 961.9,1736.3" fill="#000"/>
<text x="1130" y="1703.9" font-size="22" text-anchor="middle">41</text>
<polygon points="1068.1,1712.3 1110.3,1701.1 1109.7,1698.9 1067.9,1711.7" fill="#000"/>
<path d="M1012.0,909.0C1015.8,912.5 1027.5,921.5 1035.0,930.0C1042.5,938.5 1050.8,949.2 1057.0,960.0C1063.2,970.8 1067.7,983.8 1072.0,995.0C1076.3,1006.2 1079.7,1013.7 1083.0,1027.0C1086.3,1040.3 1089.7,1058.3 1092.0,1075.0C1094.3,1091.7 1095.7,1109.5 1097.0,1127.0C1098.3,1144.5 1099.5,1163.3 1100.0,1180.0C1100.5,1196.7 1100.5,1210.3 1100.0,1227.0C1099.5,1243.7 1098.7,1263.3 1097.0,1280.0C1095.3,1296.7 1093.7,1311.7 1090.0,1327.0C1086.3,1342.3 1080.5,1358.2 1075.0,1372.0C1069.5,1385.8 1062.0,1397.8 1057.0,1410.0C1052.0,1422.2 1048.3,1436.7 1045.0,1445.0C1041.7,1453.3 1039.5,1452.5 1037.0,1460.0C1034.5,1467.5 1032.2,1479.2 1030.0,1490.0C1027.8,1500.8 1025.3,1513.2 1024.0,1525.0C1022.7,1536.8 1021.0,1548.5 1022.0,1561.0C1023.0,1573.5 1026.3,1589.0 1030.0,1600.0C1033.7,1611.0 1039.0,1618.3 1044.0,1627.0C1049.0,1635.7 1054.5,1644.7 1060.0,1652.0C1065.5,1659.3 1074.2,1667.8 1077.0,1671.0" fill="none" stroke="#000" stroke-width="1.6" stroke-linejoin="round" stroke-linecap="round" stroke-dasharray="120 8 10 8 95 8 10 8 160 8 10 8 400"/>
<line x1="1070" y1="1675" x2="1079" y2="1670" stroke="#000" stroke-width="1.5" stroke-linecap="round" />
<text x="1201" y="1785" font-size="37" letter-spacing="1.4" style="font-family:'Liberation Serif',serif"><tspan fill="#4a6bb5" stroke="#4a6bb5" stroke-width="0.4">m</tspan><tspan fill="#4aa845" stroke="#4aa845" stroke-width="0.4">o</tspan><tspan fill="#e85aa0" stroke="#e85aa0" stroke-width="0.4">t</tspan><tspan fill="#4aa845" stroke="#4aa845" stroke-width="0.4">o</tspan><tspan fill="#e05a20" stroke="#e05a20" stroke-width="0.4">r</tspan><tspan fill="#f0a020" stroke="#f0a020" stroke-width="0.4">u</tspan><tspan fill="#f5c800" stroke="#f5c800" stroke-width="0.4">f</tspan></text>
<text x="1330" y="1785" font-size="17" fill="#3a3a20">.de</text>
</svg>
</body></html>
